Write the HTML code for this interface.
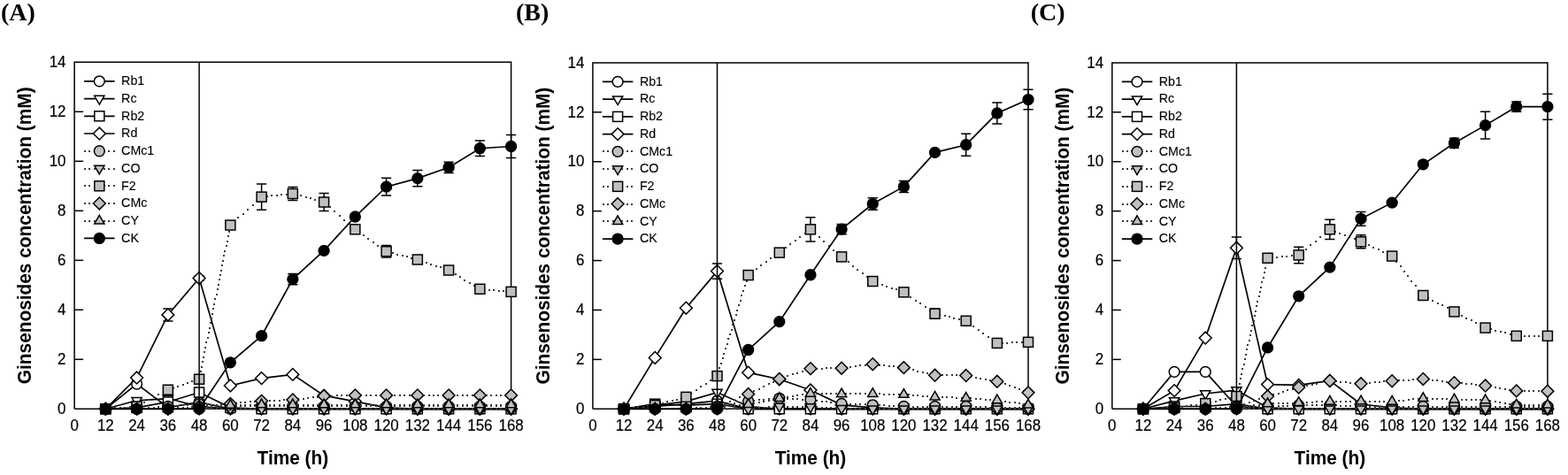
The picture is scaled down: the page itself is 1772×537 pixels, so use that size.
<!DOCTYPE html>
<html><head><meta charset="utf-8"><title>Ginsenosides concentration</title>
<style>
html,body{margin:0;padding:0;background:#fff;}
body{width:1772px;height:537px;overflow:hidden;}
svg{display:block;}
.pl{font-family:"Liberation Serif","Times New Roman",serif;font-weight:bold;font-size:28px;fill:#000;}
.at{font-family:"Liberation Sans",Arial,sans-serif;font-weight:bold;font-size:21.6px;fill:#000;}
.tk{font-family:"Liberation Sans",Arial,sans-serif;font-size:18.2px;fill:#000;stroke:#000;stroke-width:0.2px;}
.lg{font-family:"Liberation Sans",Arial,sans-serif;font-size:15px;fill:#000;stroke:#000;stroke-width:0.12px;}
</style></head>
<body>
<svg width="1772" height="537" viewBox="0 0 1772 537">
<rect width="1772" height="537" fill="#fff"/>
<text x="1" y="22.8" class="pl">(A)</text>
<text class="at" x="0" y="0" text-anchor="middle" transform="translate(35.1 266.3) rotate(-90) scale(0.965 1)">Ginsenosides concentration (mM)</text>
<text class="at" x="0" y="0" text-anchor="middle" transform="translate(330.85 525.1) scale(0.965 1)">Time (h)</text>
<text class="tk" x="0" y="0" text-anchor="end" transform="translate(74.5 468) scale(0.93 1)">0</text>
<text class="tk" x="0" y="0" text-anchor="end" transform="translate(74.5 412) scale(0.93 1)">2</text>
<text class="tk" x="0" y="0" text-anchor="end" transform="translate(74.5 356) scale(0.93 1)">4</text>
<text class="tk" x="0" y="0" text-anchor="end" transform="translate(74.5 300) scale(0.93 1)">6</text>
<text class="tk" x="0" y="0" text-anchor="end" transform="translate(74.5 244) scale(0.93 1)">8</text>
<text class="tk" x="0" y="0" text-anchor="end" transform="translate(74.5 188) scale(0.93 1)">10</text>
<text class="tk" x="0" y="0" text-anchor="end" transform="translate(74.5 132) scale(0.93 1)">12</text>
<text class="tk" x="0" y="0" text-anchor="end" transform="translate(74.5 76) scale(0.93 1)">14</text>
<text class="tk" x="0" y="0" text-anchor="middle" transform="translate(84.1 486.9) scale(0.93 1)">0</text>
<text class="tk" x="0" y="0" text-anchor="middle" transform="translate(119.35 486.9) scale(0.93 1)">12</text>
<text class="tk" x="0" y="0" text-anchor="middle" transform="translate(154.6 486.9) scale(0.93 1)">24</text>
<text class="tk" x="0" y="0" text-anchor="middle" transform="translate(189.85 486.9) scale(0.93 1)">36</text>
<text class="tk" x="0" y="0" text-anchor="middle" transform="translate(225.1 486.9) scale(0.93 1)">48</text>
<text class="tk" x="0" y="0" text-anchor="middle" transform="translate(260.35 486.9) scale(0.93 1)">60</text>
<text class="tk" x="0" y="0" text-anchor="middle" transform="translate(295.6 486.9) scale(0.93 1)">72</text>
<text class="tk" x="0" y="0" text-anchor="middle" transform="translate(330.85 486.9) scale(0.93 1)">84</text>
<text class="tk" x="0" y="0" text-anchor="middle" transform="translate(366.1 486.9) scale(0.93 1)">96</text>
<text class="tk" x="0" y="0" text-anchor="middle" transform="translate(401.35 486.9) scale(0.93 1)">108</text>
<text class="tk" x="0" y="0" text-anchor="middle" transform="translate(436.6 486.9) scale(0.93 1)">120</text>
<text class="tk" x="0" y="0" text-anchor="middle" transform="translate(471.85 486.9) scale(0.93 1)">132</text>
<text class="tk" x="0" y="0" text-anchor="middle" transform="translate(507.1 486.9) scale(0.93 1)">144</text>
<text class="tk" x="0" y="0" text-anchor="middle" transform="translate(542.35 486.9) scale(0.93 1)">156</text>
<text class="tk" x="0" y="0" text-anchor="middle" transform="translate(577.6 486.9) scale(0.93 1)">168</text>
<path d="M577.6 70.3L84.1 70.3L84.1 462.3" fill="none" stroke="#000" stroke-width="1.5" stroke-linejoin="miter"/>
<path d="M84.1 462.3L578.35 462.3" fill="none" stroke="#000" stroke-width="1.5"/>
<path d="M577.6 69.55L577.6 462.3" fill="none" stroke="#000" stroke-width="1.5"/>
<path d="M84.1 406.3L94.1 406.3" stroke="#000" stroke-width="1.5"/>
<path d="M84.1 350.3L94.1 350.3" stroke="#000" stroke-width="1.5"/>
<path d="M84.1 294.3L94.1 294.3" stroke="#000" stroke-width="1.5"/>
<path d="M84.1 238.3L94.1 238.3" stroke="#000" stroke-width="1.5"/>
<path d="M84.1 182.3L94.1 182.3" stroke="#000" stroke-width="1.5"/>
<path d="M84.1 126.3L94.1 126.3" stroke="#000" stroke-width="1.5"/>
<path d="M95.1 91.8L129.6 91.8" fill="none" stroke="#000" stroke-width="1.7"/>
<circle cx="112.3" cy="91.8" r="5.9" fill="white" stroke="#000" stroke-width="1.5"/>
<text class="lg" x="0" y="0" transform="translate(137.1 96.1) scale(0.95 1)">Rb1</text>
<path d="M95.1 111.54L129.6 111.54" fill="none" stroke="#000" stroke-width="1.7"/>
<path d="M112.3 118.006L117.9 108.307L106.7 108.307Z" fill="white" stroke="#000" stroke-width="1.5"/>
<text class="lg" x="0" y="0" transform="translate(137.1 115.84) scale(0.95 1)">Rc</text>
<path d="M95.1 131.28L129.6 131.28" fill="none" stroke="#000" stroke-width="1.7"/>
<rect x="106.8" y="125.78" width="11" height="11" fill="white" stroke="#000" stroke-width="1.5"/>
<text class="lg" x="0" y="0" transform="translate(137.1 135.58) scale(0.95 1)">Rb2</text>
<path d="M95.1 151.02L129.6 151.02" fill="none" stroke="#000" stroke-width="1.7"/>
<path d="M112.3 144.12L119.2 151.02L112.3 157.92L105.4 151.02Z" fill="white" stroke="#000" stroke-width="1.5"/>
<text class="lg" x="0" y="0" transform="translate(137.1 155.32) scale(0.95 1)">Rd</text>
<path d="M95 170h2v2h-2zM100 170h2v2h-2zM106 170h2v2h-2zM111 170h2v2h-2zM117 170h2v2h-2zM122 170h2v2h-2zM128 170h2v2h-2z" fill="#3a3a3a"/>
<circle cx="112.3" cy="170.76" r="5.9" fill="#c0c0c0" stroke="#000" stroke-width="1.5"/>
<text class="lg" x="0" y="0" transform="translate(137.1 175.06) scale(0.95 1)">CMc1</text>
<path d="M95 190h2v2h-2zM100 190h2v2h-2zM106 190h2v2h-2zM111 190h2v2h-2zM117 190h2v2h-2zM122 190h2v2h-2zM128 190h2v2h-2z" fill="#3a3a3a"/>
<path d="M112.3 196.966L117.9 187.267L106.7 187.267Z" fill="#c0c0c0" stroke="#000" stroke-width="1.5"/>
<text class="lg" x="0" y="0" transform="translate(137.1 194.8) scale(0.95 1)">CO</text>
<path d="M95 209h2v2h-2zM100 209h2v2h-2zM106 209h2v2h-2zM111 209h2v2h-2zM117 209h2v2h-2zM122 209h2v2h-2zM128 209h2v2h-2z" fill="#3a3a3a"/>
<rect x="106.8" y="204.74" width="11" height="11" fill="#c0c0c0" stroke="#000" stroke-width="1.5"/>
<text class="lg" x="0" y="0" transform="translate(137.1 214.54) scale(0.95 1)">F2</text>
<path d="M95 229h2v2h-2zM100 229h2v2h-2zM106 229h2v2h-2zM111 229h2v2h-2zM117 229h2v2h-2zM122 229h2v2h-2zM128 229h2v2h-2z" fill="#3a3a3a"/>
<path d="M112.3 223.08L119.2 229.98L112.3 236.88L105.4 229.98Z" fill="#c0c0c0" stroke="#000" stroke-width="1.5"/>
<text class="lg" x="0" y="0" transform="translate(137.1 234.28) scale(0.95 1)">CMc</text>
<path d="M95 249h2v2h-2zM100 249h2v2h-2zM106 249h2v2h-2zM111 249h2v2h-2zM117 249h2v2h-2zM122 249h2v2h-2zM128 249h2v2h-2z" fill="#3a3a3a"/>
<path d="M112.3 243.254L117.9 252.953L106.7 252.953Z" fill="#c0c0c0" stroke="#000" stroke-width="1.5"/>
<text class="lg" x="0" y="0" transform="translate(137.1 254.02) scale(0.95 1)">CY</text>
<path d="M95.1 269.46L129.6 269.46" fill="none" stroke="#000" stroke-width="1.7"/>
<circle cx="112.3" cy="269.46" r="5.9" fill="black" stroke="#000" stroke-width="1.5"/>
<text class="lg" x="0" y="0" transform="translate(137.1 273.76) scale(0.95 1)">CK</text>
<polyline points="119.35,462.3 154.6,434.02 189.85,460.62 225.1,454.74 260.35,462.3 295.6,462.3 330.85,462.3 366.1,462.3 401.35,462.3 436.6,462.3 471.85,462.3 507.1,462.3 542.35,462.3 577.6,462.3" fill="none" stroke="#000" stroke-width="1.7"/>
<circle cx="119.35" cy="462.3" r="5.9" fill="white" stroke="#000" stroke-width="1.5"/>
<circle cx="154.6" cy="434.02" r="5.9" fill="white" stroke="#000" stroke-width="1.5"/>
<circle cx="189.85" cy="460.62" r="5.9" fill="white" stroke="#000" stroke-width="1.5"/>
<circle cx="225.1" cy="454.74" r="5.9" fill="white" stroke="#000" stroke-width="1.5"/>
<circle cx="260.35" cy="462.3" r="5.9" fill="white" stroke="#000" stroke-width="1.5"/>
<circle cx="295.6" cy="462.3" r="5.9" fill="white" stroke="#000" stroke-width="1.5"/>
<circle cx="330.85" cy="462.3" r="5.9" fill="white" stroke="#000" stroke-width="1.5"/>
<circle cx="366.1" cy="462.3" r="5.9" fill="white" stroke="#000" stroke-width="1.5"/>
<circle cx="401.35" cy="462.3" r="5.9" fill="white" stroke="#000" stroke-width="1.5"/>
<circle cx="436.6" cy="462.3" r="5.9" fill="white" stroke="#000" stroke-width="1.5"/>
<circle cx="471.85" cy="462.3" r="5.9" fill="white" stroke="#000" stroke-width="1.5"/>
<circle cx="507.1" cy="462.3" r="5.9" fill="white" stroke="#000" stroke-width="1.5"/>
<circle cx="542.35" cy="462.3" r="5.9" fill="white" stroke="#000" stroke-width="1.5"/>
<circle cx="577.6" cy="462.3" r="5.9" fill="white" stroke="#000" stroke-width="1.5"/>
<polyline points="119.35,462.3 154.6,452.78 189.85,450.54 225.1,459.5 260.35,462.3 295.6,462.3 330.85,462.3 366.1,462.3 401.35,462.3 436.6,462.3 471.85,462.3 507.1,462.3 542.35,462.3 577.6,462.3" fill="none" stroke="#000" stroke-width="1.7"/>
<path d="M119.35 468.766L124.95 459.067L113.75 459.067Z" fill="white" stroke="#000" stroke-width="1.5"/>
<path d="M154.6 459.246L160.2 449.547L149 449.547Z" fill="white" stroke="#000" stroke-width="1.5"/>
<path d="M189.85 457.006L195.45 447.307L184.25 447.307Z" fill="white" stroke="#000" stroke-width="1.5"/>
<path d="M225.1 465.966L230.7 456.267L219.5 456.267Z" fill="white" stroke="#000" stroke-width="1.5"/>
<path d="M260.35 468.766L265.95 459.067L254.75 459.067Z" fill="white" stroke="#000" stroke-width="1.5"/>
<path d="M295.6 468.766L301.2 459.067L290 459.067Z" fill="white" stroke="#000" stroke-width="1.5"/>
<path d="M330.85 468.766L336.45 459.067L325.25 459.067Z" fill="white" stroke="#000" stroke-width="1.5"/>
<path d="M366.1 468.766L371.7 459.067L360.5 459.067Z" fill="white" stroke="#000" stroke-width="1.5"/>
<path d="M401.35 468.766L406.95 459.067L395.75 459.067Z" fill="white" stroke="#000" stroke-width="1.5"/>
<path d="M436.6 468.766L442.2 459.067L431 459.067Z" fill="white" stroke="#000" stroke-width="1.5"/>
<path d="M471.85 468.766L477.45 459.067L466.25 459.067Z" fill="white" stroke="#000" stroke-width="1.5"/>
<path d="M507.1 468.766L512.7 459.067L501.5 459.067Z" fill="white" stroke="#000" stroke-width="1.5"/>
<path d="M542.35 468.766L547.95 459.067L536.75 459.067Z" fill="white" stroke="#000" stroke-width="1.5"/>
<path d="M577.6 468.766L583.2 459.067L572 459.067Z" fill="white" stroke="#000" stroke-width="1.5"/>
<polyline points="119.35,462.3 154.6,460.9 189.85,454.46 225.1,443.54 260.35,460.9 295.6,462.3 330.85,462.3 366.1,462.3 401.35,462.3 436.6,462.3 471.85,462.3 507.1,462.3 542.35,462.3 577.6,462.3" fill="none" stroke="#000" stroke-width="1.7"/>
<rect x="113.85" y="456.8" width="11" height="11" fill="white" stroke="#000" stroke-width="1.5"/>
<rect x="149.1" y="455.4" width="11" height="11" fill="white" stroke="#000" stroke-width="1.5"/>
<rect x="184.35" y="448.96" width="11" height="11" fill="white" stroke="#000" stroke-width="1.5"/>
<rect x="219.6" y="438.04" width="11" height="11" fill="white" stroke="#000" stroke-width="1.5"/>
<rect x="254.85" y="455.4" width="11" height="11" fill="white" stroke="#000" stroke-width="1.5"/>
<rect x="290.1" y="456.8" width="11" height="11" fill="white" stroke="#000" stroke-width="1.5"/>
<rect x="325.35" y="456.8" width="11" height="11" fill="white" stroke="#000" stroke-width="1.5"/>
<rect x="360.6" y="456.8" width="11" height="11" fill="white" stroke="#000" stroke-width="1.5"/>
<rect x="395.85" y="456.8" width="11" height="11" fill="white" stroke="#000" stroke-width="1.5"/>
<rect x="431.1" y="456.8" width="11" height="11" fill="white" stroke="#000" stroke-width="1.5"/>
<rect x="466.35" y="456.8" width="11" height="11" fill="white" stroke="#000" stroke-width="1.5"/>
<rect x="501.6" y="456.8" width="11" height="11" fill="white" stroke="#000" stroke-width="1.5"/>
<rect x="536.85" y="456.8" width="11" height="11" fill="white" stroke="#000" stroke-width="1.5"/>
<rect x="572.1" y="456.8" width="11" height="11" fill="white" stroke="#000" stroke-width="1.5"/>
<polyline points="119.35,462.3 154.6,427.02 189.85,355.9 225.1,314.46 260.35,435.98 295.6,427.58 330.85,423.38 366.1,447.18 401.35,453.9 436.6,460.9 471.85,462.3 507.1,462.3 542.35,462.3 577.6,462.3" fill="none" stroke="#000" stroke-width="1.7"/>
<path d="M189.85 348.9L189.85 362.9M184.25 348.9L195.45 348.9M184.25 362.9L195.45 362.9" stroke="#000" stroke-width="1.5" fill="none"/>
<path d="M225.1 311.66L225.1 317.26M219.5 311.66L230.7 311.66M219.5 317.26L230.7 317.26" stroke="#000" stroke-width="1.5" fill="none"/>
<path d="M119.35 455.4L126.25 462.3L119.35 469.2L112.45 462.3Z" fill="white" stroke="#000" stroke-width="1.5"/>
<path d="M154.6 420.12L161.5 427.02L154.6 433.92L147.7 427.02Z" fill="white" stroke="#000" stroke-width="1.5"/>
<path d="M189.85 349L196.75 355.9L189.85 362.8L182.95 355.9Z" fill="white" stroke="#000" stroke-width="1.5"/>
<path d="M225.1 307.56L232 314.46L225.1 321.36L218.2 314.46Z" fill="white" stroke="#000" stroke-width="1.5"/>
<path d="M260.35 429.08L267.25 435.98L260.35 442.88L253.45 435.98Z" fill="white" stroke="#000" stroke-width="1.5"/>
<path d="M295.6 420.68L302.5 427.58L295.6 434.48L288.7 427.58Z" fill="white" stroke="#000" stroke-width="1.5"/>
<path d="M330.85 416.48L337.75 423.38L330.85 430.28L323.95 423.38Z" fill="white" stroke="#000" stroke-width="1.5"/>
<path d="M366.1 440.28L373 447.18L366.1 454.08L359.2 447.18Z" fill="white" stroke="#000" stroke-width="1.5"/>
<path d="M401.35 447L408.25 453.9L401.35 460.8L394.45 453.9Z" fill="white" stroke="#000" stroke-width="1.5"/>
<path d="M436.6 454L443.5 460.9L436.6 467.8L429.7 460.9Z" fill="white" stroke="#000" stroke-width="1.5"/>
<path d="M471.85 455.4L478.75 462.3L471.85 469.2L464.95 462.3Z" fill="white" stroke="#000" stroke-width="1.5"/>
<path d="M507.1 455.4L514 462.3L507.1 469.2L500.2 462.3Z" fill="white" stroke="#000" stroke-width="1.5"/>
<path d="M542.35 455.4L549.25 462.3L542.35 469.2L535.45 462.3Z" fill="white" stroke="#000" stroke-width="1.5"/>
<path d="M577.6 455.4L584.5 462.3L577.6 469.2L570.7 462.3Z" fill="white" stroke="#000" stroke-width="1.5"/>
<path d="M118 461h2v2h-2zM124 461h2v2h-2zM129 461h2v2h-2zM135 461h2v2h-2zM140 461h2v2h-2zM146 461h2v2h-2zM151 461h2v2h-2zM156 461h2v2h-2zM162 461h2v2h-2zM167 460h2v2h-2zM173 460h2v2h-2zM178 459h2v2h-2zM184 459h2v2h-2zM189 458h2v2h-2zM195 458h2v2h-2zM200 458h2v2h-2zM206 457h2v2h-2zM211 457h2v2h-2zM216 456h2v2h-2zM222 456h2v2h-2zM227 456h2v2h-2zM233 456h2v2h-2zM238 457h2v2h-2zM244 457h2v2h-2zM249 458h2v2h-2zM255 458h2v2h-2zM260 458h2v2h-2zM266 458h2v2h-2zM271 458h2v2h-2zM276 458h2v2h-2zM282 458h2v2h-2zM287 458h2v2h-2zM293 458h2v2h-2zM298 458h2v2h-2zM304 458h2v2h-2zM309 458h2v2h-2zM315 458h2v2h-2zM320 458h2v2h-2zM325 458h2v2h-2zM331 458h2v2h-2zM336 458h2v2h-2zM342 458h2v2h-2zM347 458h2v2h-2zM353 458h2v2h-2zM358 458h2v2h-2zM364 458h2v2h-2zM369 458h2v2h-2zM374 458h2v2h-2zM380 458h2v2h-2zM385 458h2v2h-2zM391 458h2v2h-2zM396 458h2v2h-2zM402 458h2v2h-2zM407 458h2v2h-2zM413 458h2v2h-2zM418 458h2v2h-2zM424 458h2v2h-2zM429 458h2v2h-2zM434 458h2v2h-2zM440 458h2v2h-2zM445 458h2v2h-2zM451 458h2v2h-2zM456 458h2v2h-2zM462 458h2v2h-2zM467 458h2v2h-2zM473 458h2v2h-2zM478 458h2v2h-2zM484 458h2v2h-2zM489 458h2v2h-2zM494 458h2v2h-2zM500 458h2v2h-2zM505 458h2v2h-2zM511 458h2v2h-2zM516 458h2v2h-2zM522 458h2v2h-2zM527 458h2v2h-2zM533 458h2v2h-2zM538 458h2v2h-2zM543 458h2v2h-2zM549 458h2v2h-2zM554 458h2v2h-2zM560 458h2v2h-2zM565 458h2v2h-2zM571 458h2v2h-2zM576 458h2v2h-2z" fill="#3a3a3a"/>
<circle cx="119.35" cy="462.3" r="5.9" fill="#c0c0c0" stroke="#000" stroke-width="1.5"/>
<circle cx="154.6" cy="462.3" r="5.9" fill="#c0c0c0" stroke="#000" stroke-width="1.5"/>
<circle cx="189.85" cy="459.5" r="5.9" fill="#c0c0c0" stroke="#000" stroke-width="1.5"/>
<circle cx="225.1" cy="456.7" r="5.9" fill="#c0c0c0" stroke="#000" stroke-width="1.5"/>
<circle cx="260.35" cy="459.5" r="5.9" fill="#c0c0c0" stroke="#000" stroke-width="1.5"/>
<circle cx="295.6" cy="459.5" r="5.9" fill="#c0c0c0" stroke="#000" stroke-width="1.5"/>
<circle cx="330.85" cy="459.5" r="5.9" fill="#c0c0c0" stroke="#000" stroke-width="1.5"/>
<circle cx="366.1" cy="459.5" r="5.9" fill="#c0c0c0" stroke="#000" stroke-width="1.5"/>
<circle cx="401.35" cy="459.5" r="5.9" fill="#c0c0c0" stroke="#000" stroke-width="1.5"/>
<circle cx="436.6" cy="459.5" r="5.9" fill="#c0c0c0" stroke="#000" stroke-width="1.5"/>
<circle cx="471.85" cy="459.5" r="5.9" fill="#c0c0c0" stroke="#000" stroke-width="1.5"/>
<circle cx="507.1" cy="459.5" r="5.9" fill="#c0c0c0" stroke="#000" stroke-width="1.5"/>
<circle cx="542.35" cy="459.5" r="5.9" fill="#c0c0c0" stroke="#000" stroke-width="1.5"/>
<circle cx="577.6" cy="459.5" r="5.9" fill="#c0c0c0" stroke="#000" stroke-width="1.5"/>
<path d="M118 461h2v2h-2zM124 461h2v2h-2zM129 461h2v2h-2zM135 461h2v2h-2zM140 461h2v2h-2zM146 461h2v2h-2zM151 461h2v2h-2zM156 461h2v2h-2zM162 461h2v2h-2zM167 461h2v2h-2zM173 461h2v2h-2zM178 461h2v2h-2zM184 461h2v2h-2zM189 461h2v2h-2zM195 461h2v2h-2zM200 461h2v2h-2zM206 461h2v2h-2zM211 461h2v2h-2zM216 461h2v2h-2zM222 461h2v2h-2zM227 461h2v2h-2zM233 461h2v2h-2zM238 461h2v2h-2zM244 461h2v2h-2zM249 461h2v2h-2zM255 461h2v2h-2zM260 461h2v2h-2zM266 461h2v2h-2zM271 461h2v2h-2zM276 461h2v2h-2zM282 461h2v2h-2zM287 461h2v2h-2zM293 461h2v2h-2zM298 461h2v2h-2zM304 461h2v2h-2zM309 461h2v2h-2zM315 461h2v2h-2zM320 461h2v2h-2zM325 461h2v2h-2zM331 461h2v2h-2zM336 461h2v2h-2zM342 461h2v2h-2zM347 461h2v2h-2zM353 461h2v2h-2zM358 461h2v2h-2zM364 461h2v2h-2zM369 461h2v2h-2zM374 461h2v2h-2zM380 461h2v2h-2zM385 461h2v2h-2zM391 461h2v2h-2zM396 461h2v2h-2zM402 461h2v2h-2zM407 461h2v2h-2zM413 461h2v2h-2zM418 461h2v2h-2zM424 461h2v2h-2zM429 461h2v2h-2zM434 461h2v2h-2zM440 461h2v2h-2zM445 461h2v2h-2zM451 461h2v2h-2zM456 461h2v2h-2zM462 461h2v2h-2zM467 461h2v2h-2zM473 461h2v2h-2zM478 461h2v2h-2zM484 461h2v2h-2zM489 461h2v2h-2zM494 461h2v2h-2zM500 461h2v2h-2zM505 461h2v2h-2zM511 461h2v2h-2zM516 461h2v2h-2zM522 461h2v2h-2zM527 461h2v2h-2zM533 461h2v2h-2zM538 461h2v2h-2zM543 461h2v2h-2zM549 461h2v2h-2zM554 461h2v2h-2zM560 461h2v2h-2zM565 461h2v2h-2zM571 461h2v2h-2zM576 461h2v2h-2z" fill="#3a3a3a"/>
<path d="M119.35 468.766L124.95 459.067L113.75 459.067Z" fill="#c0c0c0" stroke="#000" stroke-width="1.5"/>
<path d="M154.6 468.766L160.2 459.067L149 459.067Z" fill="#c0c0c0" stroke="#000" stroke-width="1.5"/>
<path d="M189.85 468.766L195.45 459.067L184.25 459.067Z" fill="#c0c0c0" stroke="#000" stroke-width="1.5"/>
<path d="M225.1 468.766L230.7 459.067L219.5 459.067Z" fill="#c0c0c0" stroke="#000" stroke-width="1.5"/>
<path d="M260.35 468.766L265.95 459.067L254.75 459.067Z" fill="#c0c0c0" stroke="#000" stroke-width="1.5"/>
<path d="M295.6 468.766L301.2 459.067L290 459.067Z" fill="#c0c0c0" stroke="#000" stroke-width="1.5"/>
<path d="M330.85 468.766L336.45 459.067L325.25 459.067Z" fill="#c0c0c0" stroke="#000" stroke-width="1.5"/>
<path d="M366.1 468.766L371.7 459.067L360.5 459.067Z" fill="#c0c0c0" stroke="#000" stroke-width="1.5"/>
<path d="M401.35 468.766L406.95 459.067L395.75 459.067Z" fill="#c0c0c0" stroke="#000" stroke-width="1.5"/>
<path d="M436.6 468.766L442.2 459.067L431 459.067Z" fill="#c0c0c0" stroke="#000" stroke-width="1.5"/>
<path d="M471.85 468.766L477.45 459.067L466.25 459.067Z" fill="#c0c0c0" stroke="#000" stroke-width="1.5"/>
<path d="M507.1 468.766L512.7 459.067L501.5 459.067Z" fill="#c0c0c0" stroke="#000" stroke-width="1.5"/>
<path d="M542.35 468.766L547.95 459.067L536.75 459.067Z" fill="#c0c0c0" stroke="#000" stroke-width="1.5"/>
<path d="M577.6 468.766L583.2 459.067L572 459.067Z" fill="#c0c0c0" stroke="#000" stroke-width="1.5"/>
<path d="M118 461h2v2h-2zM124 461h2v2h-2zM129 460h2v2h-2zM135 460h2v2h-2zM140 460h2v2h-2zM146 459h2v2h-2zM151 459h2v2h-2zM156 457h2v2h-2zM162 454h2v2h-2zM167 451h2v2h-2zM173 448h2v2h-2zM178 445h2v2h-2zM184 442h2v2h-2zM189 440h2v2h-2zM195 438h2v2h-2zM200 436h2v2h-2zM206 434h2v2h-2zM211 432h2v2h-2zM216 430h2v2h-2zM222 428h2v2h-2zM225 424h2v2h-2zM226 419h2v2h-2zM227 414h2v2h-2zM228 408h2v2h-2zM229 403h2v2h-2zM230 397h2v2h-2zM231 392h2v2h-2zM232 386h2v2h-2zM234 381h2v2h-2zM235 375h2v2h-2zM236 370h2v2h-2zM237 364h2v2h-2zM238 359h2v2h-2zM239 354h2v2h-2zM240 348h2v2h-2zM241 343h2v2h-2zM242 337h2v2h-2zM244 332h2v2h-2zM245 326h2v2h-2zM246 321h2v2h-2zM247 315h2v2h-2zM248 310h2v2h-2zM249 305h2v2h-2zM250 299h2v2h-2zM251 294h2v2h-2zM252 288h2v2h-2zM253 283h2v2h-2zM255 277h2v2h-2zM256 272h2v2h-2zM257 266h2v2h-2zM258 261h2v2h-2zM259 256h2v2h-2zM263 250h2v2h-2zM268 245h2v2h-2zM274 241h2v2h-2zM279 236h2v2h-2zM285 231h2v2h-2zM290 226h2v2h-2zM296 222h2v2h-2zM301 221h2v2h-2zM306 220h2v2h-2zM312 220h2v2h-2zM317 219h2v2h-2zM323 219h2v2h-2zM328 218h2v2h-2zM334 219h2v2h-2zM339 220h2v2h-2zM345 222h2v2h-2zM350 223h2v2h-2zM355 225h2v2h-2zM361 226h2v2h-2zM366 229h2v2h-2zM372 233h2v2h-2zM377 238h2v2h-2zM383 243h2v2h-2zM388 248h2v2h-2zM394 252h2v2h-2zM399 257h2v2h-2zM405 261h2v2h-2zM410 265h2v2h-2zM415 269h2v2h-2zM421 273h2v2h-2zM426 277h2v2h-2zM432 281h2v2h-2zM437 284h2v2h-2zM443 285h2v2h-2zM448 287h2v2h-2zM454 288h2v2h-2zM459 289h2v2h-2zM464 291h2v2h-2zM470 292h2v2h-2zM475 294h2v2h-2zM481 296h2v2h-2zM486 298h2v2h-2zM492 300h2v2h-2zM497 301h2v2h-2zM503 303h2v2h-2zM508 306h2v2h-2zM514 309h2v2h-2zM519 312h2v2h-2zM524 316h2v2h-2zM530 319h2v2h-2zM535 322h2v2h-2zM541 325h2v2h-2zM546 326h2v2h-2zM552 327h2v2h-2zM557 327h2v2h-2zM563 328h2v2h-2zM568 328h2v2h-2zM573 329h2v2h-2z" fill="#3a3a3a"/>
<path d="M295.6 207.92L295.6 237.32M290 207.92L301.2 207.92M290 237.32L301.2 237.32" stroke="#000" stroke-width="1.5" fill="none"/>
<path d="M330.85 211.42L330.85 226.54M325.25 211.42L336.45 211.42M325.25 226.54L336.45 226.54" stroke="#000" stroke-width="1.5" fill="none"/>
<path d="M366.1 218.56L366.1 238.44M360.5 218.56L371.7 218.56M360.5 238.44L371.7 238.44" stroke="#000" stroke-width="1.5" fill="none"/>
<path d="M436.6 277.5L436.6 290.94M431 277.5L442.2 277.5M431 290.94L442.2 290.94" stroke="#000" stroke-width="1.5" fill="none"/>
<path d="M507.1 301.3L507.1 309.7M501.5 301.3L512.7 301.3M501.5 309.7L512.7 309.7" stroke="#000" stroke-width="1.5" fill="none"/>
<rect x="113.85" y="456.8" width="11" height="11" fill="#c0c0c0" stroke="#000" stroke-width="1.5"/>
<rect x="149.1" y="454" width="11" height="11" fill="#c0c0c0" stroke="#000" stroke-width="1.5"/>
<rect x="184.35" y="435.24" width="11" height="11" fill="#c0c0c0" stroke="#000" stroke-width="1.5"/>
<rect x="219.6" y="423.2" width="11" height="11" fill="#c0c0c0" stroke="#000" stroke-width="1.5"/>
<rect x="254.85" y="249.04" width="11" height="11" fill="#c0c0c0" stroke="#000" stroke-width="1.5"/>
<rect x="290.1" y="217.12" width="11" height="11" fill="#c0c0c0" stroke="#000" stroke-width="1.5"/>
<rect x="325.35" y="213.48" width="11" height="11" fill="#c0c0c0" stroke="#000" stroke-width="1.5"/>
<rect x="360.6" y="223" width="11" height="11" fill="#c0c0c0" stroke="#000" stroke-width="1.5"/>
<rect x="395.85" y="253.8" width="11" height="11" fill="#c0c0c0" stroke="#000" stroke-width="1.5"/>
<rect x="431.1" y="278.72" width="11" height="11" fill="#c0c0c0" stroke="#000" stroke-width="1.5"/>
<rect x="466.35" y="287.96" width="11" height="11" fill="#c0c0c0" stroke="#000" stroke-width="1.5"/>
<rect x="501.6" y="300" width="11" height="11" fill="#c0c0c0" stroke="#000" stroke-width="1.5"/>
<rect x="536.85" y="321.28" width="11" height="11" fill="#c0c0c0" stroke="#000" stroke-width="1.5"/>
<rect x="572.1" y="324.36" width="11" height="11" fill="#c0c0c0" stroke="#000" stroke-width="1.5"/>
<path d="M118 461h2v2h-2zM124 461h2v2h-2zM129 461h2v2h-2zM135 461h2v2h-2zM140 461h2v2h-2zM146 461h2v2h-2zM151 461h2v2h-2zM156 461h2v2h-2zM162 461h2v2h-2zM167 461h2v2h-2zM173 461h2v2h-2zM178 461h2v2h-2zM184 461h2v2h-2zM189 461h2v2h-2zM195 461h2v2h-2zM200 460h2v2h-2zM206 460h2v2h-2zM211 460h2v2h-2zM216 459h2v2h-2zM222 459h2v2h-2zM227 458h2v2h-2zM233 458h2v2h-2zM238 457h2v2h-2zM244 457h2v2h-2zM249 456h2v2h-2zM255 456h2v2h-2zM260 455h2v2h-2zM266 455h2v2h-2zM271 454h2v2h-2zM276 454h2v2h-2zM282 453h2v2h-2zM287 453h2v2h-2zM293 453h2v2h-2zM298 452h2v2h-2zM304 452h2v2h-2zM309 452h2v2h-2zM315 452h2v2h-2zM320 451h2v2h-2zM325 451h2v2h-2zM331 451h2v2h-2zM336 450h2v2h-2zM342 450h2v2h-2zM347 449h2v2h-2zM353 448h2v2h-2zM358 448h2v2h-2zM364 447h2v2h-2zM369 447h2v2h-2zM374 447h2v2h-2zM380 446h2v2h-2zM385 446h2v2h-2zM391 446h2v2h-2zM396 446h2v2h-2zM402 446h2v2h-2zM407 446h2v2h-2zM413 446h2v2h-2zM418 446h2v2h-2zM424 446h2v2h-2zM429 446h2v2h-2zM434 446h2v2h-2zM440 446h2v2h-2zM445 446h2v2h-2zM451 446h2v2h-2zM456 446h2v2h-2zM462 446h2v2h-2zM467 446h2v2h-2zM473 446h2v2h-2zM478 446h2v2h-2zM484 446h2v2h-2zM489 446h2v2h-2zM494 446h2v2h-2zM500 446h2v2h-2zM505 446h2v2h-2zM511 446h2v2h-2zM516 446h2v2h-2zM522 446h2v2h-2zM527 446h2v2h-2zM533 446h2v2h-2zM538 446h2v2h-2zM543 446h2v2h-2zM549 446h2v2h-2zM554 446h2v2h-2zM560 446h2v2h-2zM565 446h2v2h-2zM571 446h2v2h-2zM576 446h2v2h-2z" fill="#3a3a3a"/>
<path d="M119.35 455.4L126.25 462.3L119.35 469.2L112.45 462.3Z" fill="#c0c0c0" stroke="#000" stroke-width="1.5"/>
<path d="M154.6 455.4L161.5 462.3L154.6 469.2L147.7 462.3Z" fill="#c0c0c0" stroke="#000" stroke-width="1.5"/>
<path d="M189.85 455.4L196.75 462.3L189.85 469.2L182.95 462.3Z" fill="#c0c0c0" stroke="#000" stroke-width="1.5"/>
<path d="M225.1 452.6L232 459.5L225.1 466.4L218.2 459.5Z" fill="#c0c0c0" stroke="#000" stroke-width="1.5"/>
<path d="M260.35 449.52L267.25 456.42L260.35 463.32L253.45 456.42Z" fill="#c0c0c0" stroke="#000" stroke-width="1.5"/>
<path d="M295.6 446.44L302.5 453.34L295.6 460.24L288.7 453.34Z" fill="#c0c0c0" stroke="#000" stroke-width="1.5"/>
<path d="M330.85 445.04L337.75 451.94L330.85 458.84L323.95 451.94Z" fill="#c0c0c0" stroke="#000" stroke-width="1.5"/>
<path d="M366.1 440.84L373 447.74L366.1 454.64L359.2 447.74Z" fill="#c0c0c0" stroke="#000" stroke-width="1.5"/>
<path d="M401.35 440L408.25 446.9L401.35 453.8L394.45 446.9Z" fill="#c0c0c0" stroke="#000" stroke-width="1.5"/>
<path d="M436.6 440L443.5 446.9L436.6 453.8L429.7 446.9Z" fill="#c0c0c0" stroke="#000" stroke-width="1.5"/>
<path d="M471.85 440L478.75 446.9L471.85 453.8L464.95 446.9Z" fill="#c0c0c0" stroke="#000" stroke-width="1.5"/>
<path d="M507.1 440L514 446.9L507.1 453.8L500.2 446.9Z" fill="#c0c0c0" stroke="#000" stroke-width="1.5"/>
<path d="M542.35 440L549.25 446.9L542.35 453.8L535.45 446.9Z" fill="#c0c0c0" stroke="#000" stroke-width="1.5"/>
<path d="M577.6 440L584.5 446.9L577.6 453.8L570.7 446.9Z" fill="#c0c0c0" stroke="#000" stroke-width="1.5"/>
<path d="M118 461h2v2h-2zM124 461h2v2h-2zM129 461h2v2h-2zM135 461h2v2h-2zM140 461h2v2h-2zM146 461h2v2h-2zM151 461h2v2h-2zM156 461h2v2h-2zM162 461h2v2h-2zM167 461h2v2h-2zM173 461h2v2h-2zM178 461h2v2h-2zM184 461h2v2h-2zM189 461h2v2h-2zM195 461h2v2h-2zM200 461h2v2h-2zM206 461h2v2h-2zM211 460h2v2h-2zM216 460h2v2h-2zM222 460h2v2h-2zM227 460h2v2h-2zM233 459h2v2h-2zM238 459h2v2h-2zM244 458h2v2h-2zM249 458h2v2h-2zM255 457h2v2h-2zM260 457h2v2h-2zM266 457h2v2h-2zM271 457h2v2h-2zM276 457h2v2h-2zM282 457h2v2h-2zM287 457h2v2h-2zM293 457h2v2h-2zM298 457h2v2h-2zM304 457h2v2h-2zM309 457h2v2h-2zM315 457h2v2h-2zM320 457h2v2h-2zM325 457h2v2h-2zM331 457h2v2h-2zM336 457h2v2h-2zM342 457h2v2h-2zM347 457h2v2h-2zM353 457h2v2h-2zM358 457h2v2h-2zM364 457h2v2h-2zM369 457h2v2h-2zM374 457h2v2h-2zM380 457h2v2h-2zM385 457h2v2h-2zM391 457h2v2h-2zM396 457h2v2h-2zM402 457h2v2h-2zM407 457h2v2h-2zM413 457h2v2h-2zM418 457h2v2h-2zM424 457h2v2h-2zM429 457h2v2h-2zM434 457h2v2h-2zM440 457h2v2h-2zM445 457h2v2h-2zM451 457h2v2h-2zM456 457h2v2h-2zM462 457h2v2h-2zM467 457h2v2h-2zM473 457h2v2h-2zM478 457h2v2h-2zM484 457h2v2h-2zM489 457h2v2h-2zM494 457h2v2h-2zM500 457h2v2h-2zM505 457h2v2h-2zM511 457h2v2h-2zM516 457h2v2h-2zM522 457h2v2h-2zM527 457h2v2h-2zM533 457h2v2h-2zM538 457h2v2h-2zM543 457h2v2h-2zM549 457h2v2h-2zM554 457h2v2h-2zM560 457h2v2h-2zM565 457h2v2h-2zM571 457h2v2h-2zM576 457h2v2h-2z" fill="#3a3a3a"/>
<path d="M119.35 455.834L124.95 465.533L113.75 465.533Z" fill="#c0c0c0" stroke="#000" stroke-width="1.5"/>
<path d="M154.6 455.834L160.2 465.533L149 465.533Z" fill="#c0c0c0" stroke="#000" stroke-width="1.5"/>
<path d="M189.85 455.834L195.45 465.533L184.25 465.533Z" fill="#c0c0c0" stroke="#000" stroke-width="1.5"/>
<path d="M225.1 454.434L230.7 464.133L219.5 464.133Z" fill="#c0c0c0" stroke="#000" stroke-width="1.5"/>
<path d="M260.35 451.634L265.95 461.333L254.75 461.333Z" fill="#c0c0c0" stroke="#000" stroke-width="1.5"/>
<path d="M295.6 451.074L301.2 460.773L290 460.773Z" fill="#c0c0c0" stroke="#000" stroke-width="1.5"/>
<path d="M330.85 451.074L336.45 460.773L325.25 460.773Z" fill="#c0c0c0" stroke="#000" stroke-width="1.5"/>
<path d="M366.1 451.074L371.7 460.773L360.5 460.773Z" fill="#c0c0c0" stroke="#000" stroke-width="1.5"/>
<path d="M401.35 451.074L406.95 460.773L395.75 460.773Z" fill="#c0c0c0" stroke="#000" stroke-width="1.5"/>
<path d="M436.6 451.074L442.2 460.773L431 460.773Z" fill="#c0c0c0" stroke="#000" stroke-width="1.5"/>
<path d="M471.85 451.074L477.45 460.773L466.25 460.773Z" fill="#c0c0c0" stroke="#000" stroke-width="1.5"/>
<path d="M507.1 451.074L512.7 460.773L501.5 460.773Z" fill="#c0c0c0" stroke="#000" stroke-width="1.5"/>
<path d="M542.35 451.074L547.95 460.773L536.75 460.773Z" fill="#c0c0c0" stroke="#000" stroke-width="1.5"/>
<path d="M577.6 451.074L583.2 460.773L572 460.773Z" fill="#c0c0c0" stroke="#000" stroke-width="1.5"/>
<polyline points="119.35,462.3 154.6,462.3 189.85,462.3 225.1,462.3 260.35,409.8 295.6,379.7 330.85,315.58 366.1,283.38 401.35,245.02 436.6,211.14 471.85,201.62 507.1,189.3 542.35,167.74 577.6,165.5" fill="none" stroke="#000" stroke-width="1.7"/>
<path d="M330.85 309.42L330.85 321.74M325.25 309.42L336.45 309.42M325.25 321.74L336.45 321.74" stroke="#000" stroke-width="1.5" fill="none"/>
<path d="M436.6 201.2L436.6 221.08M431 201.2L442.2 201.2M431 221.08L442.2 221.08" stroke="#000" stroke-width="1.5" fill="none"/>
<path d="M471.85 192.38L471.85 210.86M466.25 192.38L477.45 192.38M466.25 210.86L477.45 210.86" stroke="#000" stroke-width="1.5" fill="none"/>
<path d="M507.1 183.14L507.1 195.46M501.5 183.14L512.7 183.14M501.5 195.46L512.7 195.46" stroke="#000" stroke-width="1.5" fill="none"/>
<path d="M542.35 159.06L542.35 176.42M536.75 159.06L547.95 159.06M536.75 176.42L547.95 176.42" stroke="#000" stroke-width="1.5" fill="none"/>
<path d="M577.6 152.62L577.6 178.38M572 152.62L583.2 152.62M572 178.38L583.2 178.38" stroke="#000" stroke-width="1.5" fill="none"/>
<circle cx="119.35" cy="462.3" r="5.9" fill="black" stroke="#000" stroke-width="1.5"/>
<circle cx="154.6" cy="462.3" r="5.9" fill="black" stroke="#000" stroke-width="1.5"/>
<circle cx="189.85" cy="462.3" r="5.9" fill="black" stroke="#000" stroke-width="1.5"/>
<circle cx="225.1" cy="462.3" r="5.9" fill="black" stroke="#000" stroke-width="1.5"/>
<circle cx="260.35" cy="409.8" r="5.9" fill="black" stroke="#000" stroke-width="1.5"/>
<circle cx="295.6" cy="379.7" r="5.9" fill="black" stroke="#000" stroke-width="1.5"/>
<circle cx="330.85" cy="315.58" r="5.9" fill="black" stroke="#000" stroke-width="1.5"/>
<circle cx="366.1" cy="283.38" r="5.9" fill="black" stroke="#000" stroke-width="1.5"/>
<circle cx="401.35" cy="245.02" r="5.9" fill="black" stroke="#000" stroke-width="1.5"/>
<circle cx="436.6" cy="211.14" r="5.9" fill="black" stroke="#000" stroke-width="1.5"/>
<circle cx="471.85" cy="201.62" r="5.9" fill="black" stroke="#000" stroke-width="1.5"/>
<circle cx="507.1" cy="189.3" r="5.9" fill="black" stroke="#000" stroke-width="1.5"/>
<circle cx="542.35" cy="167.74" r="5.9" fill="black" stroke="#000" stroke-width="1.5"/>
<circle cx="577.6" cy="165.5" r="5.9" fill="black" stroke="#000" stroke-width="1.5"/>
<path d="M225.1 70.3L225.1 462.3" stroke="#000" stroke-width="1.5"/>
<text x="583" y="22.8" class="pl">(B)</text>
<text class="at" x="0" y="0" text-anchor="middle" transform="translate(620.9 266.6) rotate(-90) scale(0.965 1)">Ginsenosides concentration (mM)</text>
<text class="at" x="0" y="0" text-anchor="middle" transform="translate(915.95 525.1) scale(0.965 1)">Time (h)</text>
<text class="tk" x="0" y="0" text-anchor="end" transform="translate(660.3 468) scale(0.93 1)">0</text>
<text class="tk" x="0" y="0" text-anchor="end" transform="translate(660.3 412.086) scale(0.93 1)">2</text>
<text class="tk" x="0" y="0" text-anchor="end" transform="translate(660.3 356.171) scale(0.93 1)">4</text>
<text class="tk" x="0" y="0" text-anchor="end" transform="translate(660.3 300.257) scale(0.93 1)">6</text>
<text class="tk" x="0" y="0" text-anchor="end" transform="translate(660.3 244.343) scale(0.93 1)">8</text>
<text class="tk" x="0" y="0" text-anchor="end" transform="translate(660.3 188.429) scale(0.93 1)">10</text>
<text class="tk" x="0" y="0" text-anchor="end" transform="translate(660.3 132.514) scale(0.93 1)">12</text>
<text class="tk" x="0" y="0" text-anchor="end" transform="translate(660.3 76.6) scale(0.93 1)">14</text>
<text class="tk" x="0" y="0" text-anchor="middle" transform="translate(669.9 486.9) scale(0.93 1)">0</text>
<text class="tk" x="0" y="0" text-anchor="middle" transform="translate(705.05 486.9) scale(0.93 1)">12</text>
<text class="tk" x="0" y="0" text-anchor="middle" transform="translate(740.2 486.9) scale(0.93 1)">24</text>
<text class="tk" x="0" y="0" text-anchor="middle" transform="translate(775.35 486.9) scale(0.93 1)">36</text>
<text class="tk" x="0" y="0" text-anchor="middle" transform="translate(810.5 486.9) scale(0.93 1)">48</text>
<text class="tk" x="0" y="0" text-anchor="middle" transform="translate(845.65 486.9) scale(0.93 1)">60</text>
<text class="tk" x="0" y="0" text-anchor="middle" transform="translate(880.8 486.9) scale(0.93 1)">72</text>
<text class="tk" x="0" y="0" text-anchor="middle" transform="translate(915.95 486.9) scale(0.93 1)">84</text>
<text class="tk" x="0" y="0" text-anchor="middle" transform="translate(951.1 486.9) scale(0.93 1)">96</text>
<text class="tk" x="0" y="0" text-anchor="middle" transform="translate(986.25 486.9) scale(0.93 1)">108</text>
<text class="tk" x="0" y="0" text-anchor="middle" transform="translate(1021.4 486.9) scale(0.93 1)">120</text>
<text class="tk" x="0" y="0" text-anchor="middle" transform="translate(1056.55 486.9) scale(0.93 1)">132</text>
<text class="tk" x="0" y="0" text-anchor="middle" transform="translate(1091.7 486.9) scale(0.93 1)">144</text>
<text class="tk" x="0" y="0" text-anchor="middle" transform="translate(1126.85 486.9) scale(0.93 1)">156</text>
<text class="tk" x="0" y="0" text-anchor="middle" transform="translate(1162 486.9) scale(0.93 1)">168</text>
<path d="M1162 70.9L669.9 70.9L669.9 462.3" fill="none" stroke="#000" stroke-width="1.5" stroke-linejoin="miter"/>
<path d="M669.9 462.3L1162.75 462.3" fill="none" stroke="#000" stroke-width="1.5"/>
<path d="M1162 70.15L1162 462.3" fill="none" stroke="#000" stroke-width="1.5"/>
<path d="M669.9 406.386L679.9 406.386" stroke="#000" stroke-width="1.5"/>
<path d="M669.9 350.471L679.9 350.471" stroke="#000" stroke-width="1.5"/>
<path d="M669.9 294.557L679.9 294.557" stroke="#000" stroke-width="1.5"/>
<path d="M669.9 238.643L679.9 238.643" stroke="#000" stroke-width="1.5"/>
<path d="M669.9 182.729L679.9 182.729" stroke="#000" stroke-width="1.5"/>
<path d="M669.9 126.814L679.9 126.814" stroke="#000" stroke-width="1.5"/>
<path d="M680.9 92.4L715.4 92.4" fill="none" stroke="#000" stroke-width="1.7"/>
<circle cx="698.1" cy="92.4" r="5.9" fill="white" stroke="#000" stroke-width="1.5"/>
<text class="lg" x="0" y="0" transform="translate(722.9 96.7) scale(0.95 1)">Rb1</text>
<path d="M680.9 112.14L715.4 112.14" fill="none" stroke="#000" stroke-width="1.7"/>
<path d="M698.1 118.606L703.7 108.907L692.5 108.907Z" fill="white" stroke="#000" stroke-width="1.5"/>
<text class="lg" x="0" y="0" transform="translate(722.9 116.44) scale(0.95 1)">Rc</text>
<path d="M680.9 131.88L715.4 131.88" fill="none" stroke="#000" stroke-width="1.7"/>
<rect x="692.6" y="126.38" width="11" height="11" fill="white" stroke="#000" stroke-width="1.5"/>
<text class="lg" x="0" y="0" transform="translate(722.9 136.18) scale(0.95 1)">Rb2</text>
<path d="M680.9 151.62L715.4 151.62" fill="none" stroke="#000" stroke-width="1.7"/>
<path d="M698.1 144.72L705 151.62L698.1 158.52L691.2 151.62Z" fill="white" stroke="#000" stroke-width="1.5"/>
<text class="lg" x="0" y="0" transform="translate(722.9 155.92) scale(0.95 1)">Rd</text>
<path d="M681 170h2v2h-2zM686 170h2v2h-2zM692 170h2v2h-2zM697 170h2v2h-2zM702 170h2v2h-2zM708 170h2v2h-2zM713 170h2v2h-2z" fill="#3a3a3a"/>
<circle cx="698.1" cy="171.36" r="5.9" fill="#c0c0c0" stroke="#000" stroke-width="1.5"/>
<text class="lg" x="0" y="0" transform="translate(722.9 175.66) scale(0.95 1)">CMc1</text>
<path d="M681 190h2v2h-2zM686 190h2v2h-2zM692 190h2v2h-2zM697 190h2v2h-2zM702 190h2v2h-2zM708 190h2v2h-2zM713 190h2v2h-2z" fill="#3a3a3a"/>
<path d="M698.1 197.566L703.7 187.867L692.5 187.867Z" fill="#c0c0c0" stroke="#000" stroke-width="1.5"/>
<text class="lg" x="0" y="0" transform="translate(722.9 195.4) scale(0.95 1)">CO</text>
<path d="M681 210h2v2h-2zM686 210h2v2h-2zM692 210h2v2h-2zM697 210h2v2h-2zM702 210h2v2h-2zM708 210h2v2h-2zM713 210h2v2h-2z" fill="#3a3a3a"/>
<rect x="692.6" y="205.34" width="11" height="11" fill="#c0c0c0" stroke="#000" stroke-width="1.5"/>
<text class="lg" x="0" y="0" transform="translate(722.9 215.14) scale(0.95 1)">F2</text>
<path d="M681 230h2v2h-2zM686 230h2v2h-2zM692 230h2v2h-2zM697 230h2v2h-2zM702 230h2v2h-2zM708 230h2v2h-2zM713 230h2v2h-2z" fill="#3a3a3a"/>
<path d="M698.1 223.68L705 230.58L698.1 237.48L691.2 230.58Z" fill="#c0c0c0" stroke="#000" stroke-width="1.5"/>
<text class="lg" x="0" y="0" transform="translate(722.9 234.88) scale(0.95 1)">CMc</text>
<path d="M681 249h2v2h-2zM686 249h2v2h-2zM692 249h2v2h-2zM697 249h2v2h-2zM702 249h2v2h-2zM708 249h2v2h-2zM713 249h2v2h-2z" fill="#3a3a3a"/>
<path d="M698.1 243.854L703.7 253.553L692.5 253.553Z" fill="#c0c0c0" stroke="#000" stroke-width="1.5"/>
<text class="lg" x="0" y="0" transform="translate(722.9 254.62) scale(0.95 1)">CY</text>
<path d="M680.9 270.06L715.4 270.06" fill="none" stroke="#000" stroke-width="1.7"/>
<circle cx="698.1" cy="270.06" r="5.9" fill="black" stroke="#000" stroke-width="1.5"/>
<text class="lg" x="0" y="0" transform="translate(722.9 274.36) scale(0.95 1)">CK</text>
<polyline points="705.05,462.3 740.2,459.504 775.35,456.709 810.5,453.074 845.65,462.3 880.8,462.3 915.95,462.3 951.1,462.3 986.25,462.3 1021.4,462.3 1056.55,462.3 1091.7,462.3 1126.85,462.3 1162,462.3" fill="none" stroke="#000" stroke-width="1.7"/>
<circle cx="705.05" cy="462.3" r="5.9" fill="white" stroke="#000" stroke-width="1.5"/>
<circle cx="740.2" cy="459.504" r="5.9" fill="white" stroke="#000" stroke-width="1.5"/>
<circle cx="775.35" cy="456.709" r="5.9" fill="white" stroke="#000" stroke-width="1.5"/>
<circle cx="810.5" cy="453.074" r="5.9" fill="white" stroke="#000" stroke-width="1.5"/>
<circle cx="845.65" cy="462.3" r="5.9" fill="white" stroke="#000" stroke-width="1.5"/>
<circle cx="880.8" cy="462.3" r="5.9" fill="white" stroke="#000" stroke-width="1.5"/>
<circle cx="915.95" cy="462.3" r="5.9" fill="white" stroke="#000" stroke-width="1.5"/>
<circle cx="951.1" cy="462.3" r="5.9" fill="white" stroke="#000" stroke-width="1.5"/>
<circle cx="986.25" cy="462.3" r="5.9" fill="white" stroke="#000" stroke-width="1.5"/>
<circle cx="1021.4" cy="462.3" r="5.9" fill="white" stroke="#000" stroke-width="1.5"/>
<circle cx="1056.55" cy="462.3" r="5.9" fill="white" stroke="#000" stroke-width="1.5"/>
<circle cx="1091.7" cy="462.3" r="5.9" fill="white" stroke="#000" stroke-width="1.5"/>
<circle cx="1126.85" cy="462.3" r="5.9" fill="white" stroke="#000" stroke-width="1.5"/>
<circle cx="1162" cy="462.3" r="5.9" fill="white" stroke="#000" stroke-width="1.5"/>
<polyline points="705.05,462.3 740.2,458.106 775.35,453.913 810.5,443.569 845.65,459.504 880.8,462.3 915.95,462.3 951.1,462.3 986.25,462.3 1021.4,462.3 1056.55,462.3 1091.7,462.3 1126.85,462.3 1162,462.3" fill="none" stroke="#000" stroke-width="1.7"/>
<path d="M705.05 468.766L710.65 459.067L699.45 459.067Z" fill="white" stroke="#000" stroke-width="1.5"/>
<path d="M740.2 464.573L745.8 454.873L734.6 454.873Z" fill="white" stroke="#000" stroke-width="1.5"/>
<path d="M775.35 460.379L780.95 450.68L769.75 450.68Z" fill="white" stroke="#000" stroke-width="1.5"/>
<path d="M810.5 450.035L816.1 440.336L804.9 440.336Z" fill="white" stroke="#000" stroke-width="1.5"/>
<path d="M845.65 465.971L851.25 456.271L840.05 456.271Z" fill="white" stroke="#000" stroke-width="1.5"/>
<path d="M880.8 468.766L886.4 459.067L875.2 459.067Z" fill="white" stroke="#000" stroke-width="1.5"/>
<path d="M915.95 468.766L921.55 459.067L910.35 459.067Z" fill="white" stroke="#000" stroke-width="1.5"/>
<path d="M951.1 468.766L956.7 459.067L945.5 459.067Z" fill="white" stroke="#000" stroke-width="1.5"/>
<path d="M986.25 468.766L991.85 459.067L980.65 459.067Z" fill="white" stroke="#000" stroke-width="1.5"/>
<path d="M1021.4 468.766L1027 459.067L1015.8 459.067Z" fill="white" stroke="#000" stroke-width="1.5"/>
<path d="M1056.55 468.766L1062.15 459.067L1050.95 459.067Z" fill="white" stroke="#000" stroke-width="1.5"/>
<path d="M1091.7 468.766L1097.3 459.067L1086.1 459.067Z" fill="white" stroke="#000" stroke-width="1.5"/>
<path d="M1126.85 468.766L1132.45 459.067L1121.25 459.067Z" fill="white" stroke="#000" stroke-width="1.5"/>
<path d="M1162 468.766L1167.6 459.067L1156.4 459.067Z" fill="white" stroke="#000" stroke-width="1.5"/>
<polyline points="705.05,462.3 740.2,456.709 775.35,458.106 810.5,456.709 845.65,462.3 880.8,462.3 915.95,462.3 951.1,462.3 986.25,462.3 1021.4,462.3 1056.55,462.3 1091.7,462.3 1126.85,462.3 1162,462.3" fill="none" stroke="#000" stroke-width="1.7"/>
<rect x="699.55" y="456.8" width="11" height="11" fill="white" stroke="#000" stroke-width="1.5"/>
<rect x="734.7" y="451.209" width="11" height="11" fill="white" stroke="#000" stroke-width="1.5"/>
<rect x="769.85" y="452.606" width="11" height="11" fill="white" stroke="#000" stroke-width="1.5"/>
<rect x="805" y="451.209" width="11" height="11" fill="white" stroke="#000" stroke-width="1.5"/>
<rect x="840.15" y="456.8" width="11" height="11" fill="white" stroke="#000" stroke-width="1.5"/>
<rect x="875.3" y="456.8" width="11" height="11" fill="white" stroke="#000" stroke-width="1.5"/>
<rect x="910.45" y="456.8" width="11" height="11" fill="white" stroke="#000" stroke-width="1.5"/>
<rect x="945.6" y="456.8" width="11" height="11" fill="white" stroke="#000" stroke-width="1.5"/>
<rect x="980.75" y="456.8" width="11" height="11" fill="white" stroke="#000" stroke-width="1.5"/>
<rect x="1015.9" y="456.8" width="11" height="11" fill="white" stroke="#000" stroke-width="1.5"/>
<rect x="1051.05" y="456.8" width="11" height="11" fill="white" stroke="#000" stroke-width="1.5"/>
<rect x="1086.2" y="456.8" width="11" height="11" fill="white" stroke="#000" stroke-width="1.5"/>
<rect x="1121.35" y="456.8" width="11" height="11" fill="white" stroke="#000" stroke-width="1.5"/>
<rect x="1156.5" y="456.8" width="11" height="11" fill="white" stroke="#000" stroke-width="1.5"/>
<polyline points="705.05,462.3 740.2,404.429 775.35,348.235 810.5,306.579 845.65,421.203 880.8,428.751 915.95,441.053 951.1,457.827 986.25,460.902 1021.4,462.3 1056.55,462.3 1091.7,462.3 1126.85,462.3 1162,462.3" fill="none" stroke="#000" stroke-width="1.7"/>
<path d="M810.5 297.912L810.5 315.245M804.9 297.912L816.1 297.912M804.9 315.245L816.1 315.245" stroke="#000" stroke-width="1.5" fill="none"/>
<path d="M705.05 455.4L711.95 462.3L705.05 469.2L698.15 462.3Z" fill="white" stroke="#000" stroke-width="1.5"/>
<path d="M740.2 397.529L747.1 404.429L740.2 411.329L733.3 404.429Z" fill="white" stroke="#000" stroke-width="1.5"/>
<path d="M775.35 341.335L782.25 348.235L775.35 355.135L768.45 348.235Z" fill="white" stroke="#000" stroke-width="1.5"/>
<path d="M810.5 299.679L817.4 306.579L810.5 313.479L803.6 306.579Z" fill="white" stroke="#000" stroke-width="1.5"/>
<path d="M845.65 414.303L852.55 421.203L845.65 428.103L838.75 421.203Z" fill="white" stroke="#000" stroke-width="1.5"/>
<path d="M880.8 421.851L887.7 428.751L880.8 435.651L873.9 428.751Z" fill="white" stroke="#000" stroke-width="1.5"/>
<path d="M915.95 434.153L922.85 441.053L915.95 447.953L909.05 441.053Z" fill="white" stroke="#000" stroke-width="1.5"/>
<path d="M951.1 450.927L958 457.827L951.1 464.727L944.2 457.827Z" fill="white" stroke="#000" stroke-width="1.5"/>
<path d="M986.25 454.002L993.15 460.902L986.25 467.802L979.35 460.902Z" fill="white" stroke="#000" stroke-width="1.5"/>
<path d="M1021.4 455.4L1028.3 462.3L1021.4 469.2L1014.5 462.3Z" fill="white" stroke="#000" stroke-width="1.5"/>
<path d="M1056.55 455.4L1063.45 462.3L1056.55 469.2L1049.65 462.3Z" fill="white" stroke="#000" stroke-width="1.5"/>
<path d="M1091.7 455.4L1098.6 462.3L1091.7 469.2L1084.8 462.3Z" fill="white" stroke="#000" stroke-width="1.5"/>
<path d="M1126.85 455.4L1133.75 462.3L1126.85 469.2L1119.95 462.3Z" fill="white" stroke="#000" stroke-width="1.5"/>
<path d="M1162 455.4L1168.9 462.3L1162 469.2L1155.1 462.3Z" fill="white" stroke="#000" stroke-width="1.5"/>
<path d="M704 461h2v2h-2zM710 461h2v2h-2zM715 461h2v2h-2zM720 461h2v2h-2zM726 461h2v2h-2zM731 461h2v2h-2zM737 461h2v2h-2zM742 461h2v2h-2zM748 461h2v2h-2zM753 461h2v2h-2zM759 461h2v2h-2zM764 461h2v2h-2zM769 461h2v2h-2zM775 461h2v2h-2zM780 461h2v2h-2zM786 460h2v2h-2zM791 460h2v2h-2zM797 460h2v2h-2zM802 459h2v2h-2zM808 459h2v2h-2zM813 458h2v2h-2zM818 457h2v2h-2zM824 456h2v2h-2zM829 455h2v2h-2zM835 454h2v2h-2zM840 453h2v2h-2zM846 453h2v2h-2zM851 452h2v2h-2zM857 451h2v2h-2zM862 451h2v2h-2zM868 450h2v2h-2zM873 450h2v2h-2zM878 449h2v2h-2zM884 449h2v2h-2zM889 450h2v2h-2zM895 450h2v2h-2zM900 450h2v2h-2zM906 451h2v2h-2zM911 451h2v2h-2zM917 451h2v2h-2zM922 452h2v2h-2zM928 453h2v2h-2zM933 453h2v2h-2zM938 454h2v2h-2zM944 455h2v2h-2zM949 455h2v2h-2zM955 456h2v2h-2zM960 456h2v2h-2zM966 456h2v2h-2zM971 456h2v2h-2zM977 456h2v2h-2zM982 457h2v2h-2zM987 457h2v2h-2zM993 457h2v2h-2zM998 457h2v2h-2zM1004 458h2v2h-2zM1009 458h2v2h-2zM1015 458h2v2h-2zM1020 458h2v2h-2zM1026 459h2v2h-2zM1031 459h2v2h-2zM1036 459h2v2h-2zM1042 459h2v2h-2zM1047 459h2v2h-2zM1053 459h2v2h-2zM1058 459h2v2h-2zM1064 459h2v2h-2zM1069 459h2v2h-2zM1075 459h2v2h-2zM1080 459h2v2h-2zM1086 459h2v2h-2zM1091 459h2v2h-2zM1096 459h2v2h-2zM1102 459h2v2h-2zM1107 459h2v2h-2zM1113 459h2v2h-2zM1118 460h2v2h-2zM1124 460h2v2h-2zM1129 460h2v2h-2zM1135 460h2v2h-2zM1140 460h2v2h-2zM1146 460h2v2h-2zM1151 460h2v2h-2zM1156 460h2v2h-2z" fill="#3a3a3a"/>
<circle cx="705.05" cy="462.3" r="5.9" fill="#c0c0c0" stroke="#000" stroke-width="1.5"/>
<circle cx="740.2" cy="462.3" r="5.9" fill="#c0c0c0" stroke="#000" stroke-width="1.5"/>
<circle cx="775.35" cy="462.3" r="5.9" fill="#c0c0c0" stroke="#000" stroke-width="1.5"/>
<circle cx="810.5" cy="459.504" r="5.9" fill="#c0c0c0" stroke="#000" stroke-width="1.5"/>
<circle cx="845.65" cy="453.633" r="5.9" fill="#c0c0c0" stroke="#000" stroke-width="1.5"/>
<circle cx="880.8" cy="450.278" r="5.9" fill="#c0c0c0" stroke="#000" stroke-width="1.5"/>
<circle cx="915.95" cy="451.956" r="5.9" fill="#c0c0c0" stroke="#000" stroke-width="1.5"/>
<circle cx="951.1" cy="456.429" r="5.9" fill="#c0c0c0" stroke="#000" stroke-width="1.5"/>
<circle cx="986.25" cy="457.827" r="5.9" fill="#c0c0c0" stroke="#000" stroke-width="1.5"/>
<circle cx="1021.4" cy="459.504" r="5.9" fill="#c0c0c0" stroke="#000" stroke-width="1.5"/>
<circle cx="1056.55" cy="459.504" r="5.9" fill="#c0c0c0" stroke="#000" stroke-width="1.5"/>
<circle cx="1091.7" cy="459.504" r="5.9" fill="#c0c0c0" stroke="#000" stroke-width="1.5"/>
<circle cx="1126.85" cy="460.902" r="5.9" fill="#c0c0c0" stroke="#000" stroke-width="1.5"/>
<circle cx="1162" cy="460.902" r="5.9" fill="#c0c0c0" stroke="#000" stroke-width="1.5"/>
<path d="M704 461h2v2h-2zM710 461h2v2h-2zM715 461h2v2h-2zM720 461h2v2h-2zM726 461h2v2h-2zM731 461h2v2h-2zM737 461h2v2h-2zM742 461h2v2h-2zM748 461h2v2h-2zM753 461h2v2h-2zM759 461h2v2h-2zM764 461h2v2h-2zM769 461h2v2h-2zM775 461h2v2h-2zM780 461h2v2h-2zM786 461h2v2h-2zM791 461h2v2h-2zM797 461h2v2h-2zM802 461h2v2h-2zM808 461h2v2h-2zM813 461h2v2h-2zM818 461h2v2h-2zM824 461h2v2h-2zM829 461h2v2h-2zM835 461h2v2h-2zM840 461h2v2h-2zM846 461h2v2h-2zM851 461h2v2h-2zM857 460h2v2h-2zM862 460h2v2h-2zM868 459h2v2h-2zM873 459h2v2h-2zM878 459h2v2h-2zM884 459h2v2h-2zM889 459h2v2h-2zM895 459h2v2h-2zM900 459h2v2h-2zM906 459h2v2h-2zM911 459h2v2h-2zM917 459h2v2h-2zM922 459h2v2h-2zM928 460h2v2h-2zM933 460h2v2h-2zM938 460h2v2h-2zM944 460h2v2h-2zM949 461h2v2h-2zM955 461h2v2h-2zM960 461h2v2h-2zM966 461h2v2h-2zM971 461h2v2h-2zM977 461h2v2h-2zM982 461h2v2h-2zM987 461h2v2h-2zM993 461h2v2h-2zM998 461h2v2h-2zM1004 461h2v2h-2zM1009 461h2v2h-2zM1015 461h2v2h-2zM1020 461h2v2h-2zM1026 461h2v2h-2zM1031 461h2v2h-2zM1036 461h2v2h-2zM1042 461h2v2h-2zM1047 461h2v2h-2zM1053 461h2v2h-2zM1058 461h2v2h-2zM1064 461h2v2h-2zM1069 461h2v2h-2zM1075 461h2v2h-2zM1080 461h2v2h-2zM1086 461h2v2h-2zM1091 461h2v2h-2zM1096 461h2v2h-2zM1102 461h2v2h-2zM1107 461h2v2h-2zM1113 461h2v2h-2zM1118 461h2v2h-2zM1124 461h2v2h-2zM1129 461h2v2h-2zM1135 461h2v2h-2zM1140 461h2v2h-2zM1146 461h2v2h-2zM1151 461h2v2h-2zM1156 461h2v2h-2z" fill="#3a3a3a"/>
<path d="M705.05 468.766L710.65 459.067L699.45 459.067Z" fill="#c0c0c0" stroke="#000" stroke-width="1.5"/>
<path d="M740.2 468.766L745.8 459.067L734.6 459.067Z" fill="#c0c0c0" stroke="#000" stroke-width="1.5"/>
<path d="M775.35 468.766L780.95 459.067L769.75 459.067Z" fill="#c0c0c0" stroke="#000" stroke-width="1.5"/>
<path d="M810.5 468.766L816.1 459.067L804.9 459.067Z" fill="#c0c0c0" stroke="#000" stroke-width="1.5"/>
<path d="M845.65 468.766L851.25 459.067L840.05 459.067Z" fill="#c0c0c0" stroke="#000" stroke-width="1.5"/>
<path d="M880.8 465.971L886.4 456.271L875.2 456.271Z" fill="#c0c0c0" stroke="#000" stroke-width="1.5"/>
<path d="M915.95 466.53L921.55 456.83L910.35 456.83Z" fill="#c0c0c0" stroke="#000" stroke-width="1.5"/>
<path d="M951.1 468.207L956.7 458.508L945.5 458.508Z" fill="#c0c0c0" stroke="#000" stroke-width="1.5"/>
<path d="M986.25 468.766L991.85 459.067L980.65 459.067Z" fill="#c0c0c0" stroke="#000" stroke-width="1.5"/>
<path d="M1021.4 468.766L1027 459.067L1015.8 459.067Z" fill="#c0c0c0" stroke="#000" stroke-width="1.5"/>
<path d="M1056.55 468.766L1062.15 459.067L1050.95 459.067Z" fill="#c0c0c0" stroke="#000" stroke-width="1.5"/>
<path d="M1091.7 468.766L1097.3 459.067L1086.1 459.067Z" fill="#c0c0c0" stroke="#000" stroke-width="1.5"/>
<path d="M1126.85 468.766L1132.45 459.067L1121.25 459.067Z" fill="#c0c0c0" stroke="#000" stroke-width="1.5"/>
<path d="M1162 468.766L1167.6 459.067L1156.4 459.067Z" fill="#c0c0c0" stroke="#000" stroke-width="1.5"/>
<path d="M704 461h2v2h-2zM710 461h2v2h-2zM715 460h2v2h-2zM720 459h2v2h-2zM726 459h2v2h-2zM731 458h2v2h-2zM737 457h2v2h-2zM742 456h2v2h-2zM748 455h2v2h-2zM753 453h2v2h-2zM759 452h2v2h-2zM764 451h2v2h-2zM769 449h2v2h-2zM775 448h2v2h-2zM780 444h2v2h-2zM786 440h2v2h-2zM791 436h2v2h-2zM797 433h2v2h-2zM802 429h2v2h-2zM808 425h2v2h-2zM811 421h2v2h-2zM812 415h2v2h-2zM814 410h2v2h-2zM816 404h2v2h-2zM817 399h2v2h-2zM819 393h2v2h-2zM821 388h2v2h-2zM822 382h2v2h-2zM824 377h2v2h-2zM826 372h2v2h-2zM827 366h2v2h-2zM829 361h2v2h-2zM831 355h2v2h-2zM832 350h2v2h-2zM834 344h2v2h-2zM836 339h2v2h-2zM837 333h2v2h-2zM839 328h2v2h-2zM841 322h2v2h-2zM843 317h2v2h-2zM844 312h2v2h-2zM849 307h2v2h-2zM854 303h2v2h-2zM859 299h2v2h-2zM865 295h2v2h-2zM870 291h2v2h-2zM876 287h2v2h-2zM881 284h2v2h-2zM887 279h2v2h-2zM892 275h2v2h-2zM898 271h2v2h-2zM903 267h2v2h-2zM909 263h2v2h-2zM914 259h2v2h-2zM919 262h2v2h-2zM925 267h2v2h-2zM930 272h2v2h-2zM936 277h2v2h-2zM941 282h2v2h-2zM947 286h2v2h-2zM952 291h2v2h-2zM958 295h2v2h-2zM963 300h2v2h-2zM968 304h2v2h-2zM974 308h2v2h-2zM979 312h2v2h-2zM985 317h2v2h-2zM990 319h2v2h-2zM996 321h2v2h-2zM1001 323h2v2h-2zM1007 325h2v2h-2zM1012 326h2v2h-2zM1018 328h2v2h-2zM1023 331h2v2h-2zM1028 335h2v2h-2zM1034 339h2v2h-2zM1039 342h2v2h-2zM1045 346h2v2h-2zM1050 350h2v2h-2zM1056 354h2v2h-2zM1061 355h2v2h-2zM1067 356h2v2h-2zM1072 357h2v2h-2zM1077 359h2v2h-2zM1083 360h2v2h-2zM1088 361h2v2h-2zM1094 364h2v2h-2zM1099 368h2v2h-2zM1105 372h2v2h-2zM1110 376h2v2h-2zM1116 380h2v2h-2zM1121 384h2v2h-2zM1127 387h2v2h-2zM1132 387h2v2h-2zM1137 387h2v2h-2zM1143 386h2v2h-2zM1148 386h2v2h-2zM1154 386h2v2h-2zM1159 386h2v2h-2z" fill="#3a3a3a"/>
<path d="M915.95 245.632L915.95 273.03M910.35 245.632L921.55 245.632M910.35 273.03L921.55 273.03" stroke="#000" stroke-width="1.5" fill="none"/>
<path d="M1056.55 349.074L1056.55 360.256M1050.95 349.074L1062.15 349.074M1050.95 360.256L1062.15 360.256" stroke="#000" stroke-width="1.5" fill="none"/>
<rect x="699.55" y="456.8" width="11" height="11" fill="#c0c0c0" stroke="#000" stroke-width="1.5"/>
<rect x="734.7" y="452.606" width="11" height="11" fill="#c0c0c0" stroke="#000" stroke-width="1.5"/>
<rect x="769.85" y="443.381" width="11" height="11" fill="#c0c0c0" stroke="#000" stroke-width="1.5"/>
<rect x="805" y="419.617" width="11" height="11" fill="#c0c0c0" stroke="#000" stroke-width="1.5"/>
<rect x="840.15" y="305.552" width="11" height="11" fill="#c0c0c0" stroke="#000" stroke-width="1.5"/>
<rect x="875.3" y="280.111" width="11" height="11" fill="#c0c0c0" stroke="#000" stroke-width="1.5"/>
<rect x="910.45" y="253.831" width="11" height="11" fill="#c0c0c0" stroke="#000" stroke-width="1.5"/>
<rect x="945.6" y="284.864" width="11" height="11" fill="#c0c0c0" stroke="#000" stroke-width="1.5"/>
<rect x="980.75" y="312.541" width="11" height="11" fill="#c0c0c0" stroke="#000" stroke-width="1.5"/>
<rect x="1015.9" y="324.842" width="11" height="11" fill="#c0c0c0" stroke="#000" stroke-width="1.5"/>
<rect x="1051.05" y="349.165" width="11" height="11" fill="#c0c0c0" stroke="#000" stroke-width="1.5"/>
<rect x="1086.2" y="357.273" width="11" height="11" fill="#c0c0c0" stroke="#000" stroke-width="1.5"/>
<rect x="1121.35" y="382.434" width="11" height="11" fill="#c0c0c0" stroke="#000" stroke-width="1.5"/>
<rect x="1156.5" y="381.316" width="11" height="11" fill="#c0c0c0" stroke="#000" stroke-width="1.5"/>
<path d="M704 461h2v2h-2zM710 461h2v2h-2zM715 461h2v2h-2zM720 461h2v2h-2zM726 461h2v2h-2zM731 461h2v2h-2zM737 461h2v2h-2zM742 461h2v2h-2zM748 461h2v2h-2zM753 461h2v2h-2zM759 461h2v2h-2zM764 461h2v2h-2zM769 461h2v2h-2zM775 461h2v2h-2zM780 461h2v2h-2zM786 460h2v2h-2zM791 460h2v2h-2zM797 460h2v2h-2zM802 459h2v2h-2zM808 459h2v2h-2zM813 457h2v2h-2zM818 455h2v2h-2zM824 453h2v2h-2zM829 451h2v2h-2zM835 448h2v2h-2zM840 446h2v2h-2zM846 444h2v2h-2zM851 441h2v2h-2zM857 439h2v2h-2zM862 436h2v2h-2zM868 433h2v2h-2zM873 431h2v2h-2zM878 428h2v2h-2zM884 426h2v2h-2zM889 424h2v2h-2zM895 422h2v2h-2zM900 421h2v2h-2zM906 419h2v2h-2zM911 417h2v2h-2zM917 416h2v2h-2zM922 416h2v2h-2zM928 416h2v2h-2zM933 415h2v2h-2zM938 415h2v2h-2zM944 415h2v2h-2zM949 415h2v2h-2zM955 415h2v2h-2zM960 414h2v2h-2zM966 413h2v2h-2zM971 412h2v2h-2zM977 412h2v2h-2zM982 411h2v2h-2zM987 411h2v2h-2zM993 412h2v2h-2zM998 412h2v2h-2zM1004 413h2v2h-2zM1009 413h2v2h-2zM1015 414h2v2h-2zM1020 415h2v2h-2zM1026 416h2v2h-2zM1031 417h2v2h-2zM1036 419h2v2h-2zM1042 420h2v2h-2zM1047 421h2v2h-2zM1053 423h2v2h-2zM1058 423h2v2h-2zM1064 423h2v2h-2zM1069 423h2v2h-2zM1075 423h2v2h-2zM1080 423h2v2h-2zM1086 424h2v2h-2zM1091 424h2v2h-2zM1096 425h2v2h-2zM1102 426h2v2h-2zM1107 427h2v2h-2zM1113 428h2v2h-2zM1118 429h2v2h-2zM1124 430h2v2h-2zM1129 431h2v2h-2zM1135 433h2v2h-2zM1140 435h2v2h-2zM1146 437h2v2h-2zM1151 439h2v2h-2zM1156 441h2v2h-2z" fill="#3a3a3a"/>
<path d="M705.05 455.4L711.95 462.3L705.05 469.2L698.15 462.3Z" fill="#c0c0c0" stroke="#000" stroke-width="1.5"/>
<path d="M740.2 455.4L747.1 462.3L740.2 469.2L733.3 462.3Z" fill="#c0c0c0" stroke="#000" stroke-width="1.5"/>
<path d="M775.35 455.4L782.25 462.3L775.35 469.2L768.45 462.3Z" fill="#c0c0c0" stroke="#000" stroke-width="1.5"/>
<path d="M810.5 452.604L817.4 459.504L810.5 466.404L803.6 459.504Z" fill="#c0c0c0" stroke="#000" stroke-width="1.5"/>
<path d="M845.65 438.626L852.55 445.526L845.65 452.426L838.75 445.526Z" fill="#c0c0c0" stroke="#000" stroke-width="1.5"/>
<path d="M880.8 421.572L887.7 428.472L880.8 435.372L873.9 428.472Z" fill="#c0c0c0" stroke="#000" stroke-width="1.5"/>
<path d="M915.95 409.83L922.85 416.73L915.95 423.63L909.05 416.73Z" fill="#c0c0c0" stroke="#000" stroke-width="1.5"/>
<path d="M951.1 409.271L958 416.171L951.1 423.071L944.2 416.171Z" fill="#c0c0c0" stroke="#000" stroke-width="1.5"/>
<path d="M986.25 404.798L993.15 411.698L986.25 418.598L979.35 411.698Z" fill="#c0c0c0" stroke="#000" stroke-width="1.5"/>
<path d="M1021.4 408.712L1028.3 415.612L1021.4 422.512L1014.5 415.612Z" fill="#c0c0c0" stroke="#000" stroke-width="1.5"/>
<path d="M1056.55 417.378L1063.45 424.278L1056.55 431.178L1049.65 424.278Z" fill="#c0c0c0" stroke="#000" stroke-width="1.5"/>
<path d="M1091.7 417.658L1098.6 424.558L1091.7 431.458L1084.8 424.558Z" fill="#c0c0c0" stroke="#000" stroke-width="1.5"/>
<path d="M1126.85 424.368L1133.75 431.268L1126.85 438.168L1119.95 431.268Z" fill="#c0c0c0" stroke="#000" stroke-width="1.5"/>
<path d="M1162 436.948L1168.9 443.848L1162 450.748L1155.1 443.848Z" fill="#c0c0c0" stroke="#000" stroke-width="1.5"/>
<path d="M704 461h2v2h-2zM710 461h2v2h-2zM715 461h2v2h-2zM720 461h2v2h-2zM726 461h2v2h-2zM731 461h2v2h-2zM737 461h2v2h-2zM742 461h2v2h-2zM748 461h2v2h-2zM753 461h2v2h-2zM759 461h2v2h-2zM764 461h2v2h-2zM769 461h2v2h-2zM775 461h2v2h-2zM780 461h2v2h-2zM786 461h2v2h-2zM791 461h2v2h-2zM797 460h2v2h-2zM802 460h2v2h-2zM808 460h2v2h-2zM813 460h2v2h-2zM818 459h2v2h-2zM824 458h2v2h-2zM829 458h2v2h-2zM835 457h2v2h-2zM840 457h2v2h-2zM846 456h2v2h-2zM851 455h2v2h-2zM857 454h2v2h-2zM862 453h2v2h-2zM868 452h2v2h-2zM873 451h2v2h-2zM878 450h2v2h-2zM884 449h2v2h-2zM889 448h2v2h-2zM895 447h2v2h-2zM900 446h2v2h-2zM906 445h2v2h-2zM911 445h2v2h-2zM917 444h2v2h-2zM922 444h2v2h-2zM928 444h2v2h-2zM933 444h2v2h-2zM938 444h2v2h-2zM944 444h2v2h-2zM949 445h2v2h-2zM955 444h2v2h-2zM960 444h2v2h-2zM966 444h2v2h-2zM971 444h2v2h-2zM977 444h2v2h-2zM982 444h2v2h-2zM987 444h2v2h-2zM993 444h2v2h-2zM998 445h2v2h-2zM1004 445h2v2h-2zM1009 445h2v2h-2zM1015 445h2v2h-2zM1020 445h2v2h-2zM1026 445h2v2h-2zM1031 446h2v2h-2zM1036 446h2v2h-2zM1042 447h2v2h-2zM1047 447h2v2h-2zM1053 448h2v2h-2zM1058 448h2v2h-2zM1064 448h2v2h-2zM1069 448h2v2h-2zM1075 448h2v2h-2zM1080 449h2v2h-2zM1086 449h2v2h-2zM1091 449h2v2h-2zM1096 449h2v2h-2zM1102 450h2v2h-2zM1107 450h2v2h-2zM1113 451h2v2h-2zM1118 451h2v2h-2zM1124 451h2v2h-2zM1129 452h2v2h-2zM1135 453h2v2h-2zM1140 454h2v2h-2zM1146 454h2v2h-2zM1151 455h2v2h-2zM1156 456h2v2h-2z" fill="#3a3a3a"/>
<path d="M705.05 455.834L710.65 465.533L699.45 465.533Z" fill="#c0c0c0" stroke="#000" stroke-width="1.5"/>
<path d="M740.2 455.834L745.8 465.533L734.6 465.533Z" fill="#c0c0c0" stroke="#000" stroke-width="1.5"/>
<path d="M775.35 455.834L780.95 465.533L769.75 465.533Z" fill="#c0c0c0" stroke="#000" stroke-width="1.5"/>
<path d="M810.5 454.436L816.1 464.135L804.9 464.135Z" fill="#c0c0c0" stroke="#000" stroke-width="1.5"/>
<path d="M845.65 450.801L851.25 460.501L840.05 460.501Z" fill="#c0c0c0" stroke="#000" stroke-width="1.5"/>
<path d="M880.8 443.812L886.4 453.512L875.2 453.512Z" fill="#c0c0c0" stroke="#000" stroke-width="1.5"/>
<path d="M915.95 438.5L921.55 448.2L910.35 448.2Z" fill="#c0c0c0" stroke="#000" stroke-width="1.5"/>
<path d="M951.1 439.059L956.7 448.759L945.5 448.759Z" fill="#c0c0c0" stroke="#000" stroke-width="1.5"/>
<path d="M986.25 438.78L991.85 448.479L980.65 448.479Z" fill="#c0c0c0" stroke="#000" stroke-width="1.5"/>
<path d="M1021.4 439.619L1027 449.318L1015.8 449.318Z" fill="#c0c0c0" stroke="#000" stroke-width="1.5"/>
<path d="M1056.55 442.414L1062.15 452.114L1050.95 452.114Z" fill="#c0c0c0" stroke="#000" stroke-width="1.5"/>
<path d="M1091.7 443.533L1097.3 453.232L1086.1 453.232Z" fill="#c0c0c0" stroke="#000" stroke-width="1.5"/>
<path d="M1126.85 446.049L1132.45 455.748L1121.25 455.748Z" fill="#c0c0c0" stroke="#000" stroke-width="1.5"/>
<path d="M1162 451.361L1167.6 461.06L1156.4 461.06Z" fill="#c0c0c0" stroke="#000" stroke-width="1.5"/>
<polyline points="705.05,462.3 740.2,462.3 775.35,462.3 810.5,462.3 845.65,395.482 880.8,363.611 915.95,310.772 951.1,259.052 986.25,230.535 1021.4,210.965 1056.55,172.384 1091.7,163.718 1126.85,127.933 1162,112.556" fill="none" stroke="#000" stroke-width="1.7"/>
<path d="M951.1 253.46L951.1 264.643M945.5 253.46L956.7 253.46M945.5 264.643L956.7 264.643" stroke="#000" stroke-width="1.5" fill="none"/>
<path d="M986.25 223.826L986.25 237.245M980.65 223.826L991.85 223.826M980.65 237.245L991.85 237.245" stroke="#000" stroke-width="1.5" fill="none"/>
<path d="M1021.4 204.535L1021.4 217.395M1015.8 204.535L1027 204.535M1015.8 217.395L1027 217.395" stroke="#000" stroke-width="1.5" fill="none"/>
<path d="M1056.55 169.589L1056.55 175.18M1050.95 169.589L1062.15 169.589M1050.95 175.18L1062.15 175.18" stroke="#000" stroke-width="1.5" fill="none"/>
<path d="M1091.7 151.137L1091.7 176.298M1086.1 151.137L1097.3 151.137M1086.1 176.298L1097.3 176.298" stroke="#000" stroke-width="1.5" fill="none"/>
<path d="M1126.85 115.911L1126.85 139.954M1121.25 115.911L1132.45 115.911M1121.25 139.954L1132.45 139.954" stroke="#000" stroke-width="1.5" fill="none"/>
<path d="M1162 101.373L1162 123.739M1156.4 101.373L1167.6 101.373M1156.4 123.739L1167.6 123.739" stroke="#000" stroke-width="1.5" fill="none"/>
<circle cx="705.05" cy="462.3" r="5.9" fill="black" stroke="#000" stroke-width="1.5"/>
<circle cx="740.2" cy="462.3" r="5.9" fill="black" stroke="#000" stroke-width="1.5"/>
<circle cx="775.35" cy="462.3" r="5.9" fill="black" stroke="#000" stroke-width="1.5"/>
<circle cx="810.5" cy="462.3" r="5.9" fill="black" stroke="#000" stroke-width="1.5"/>
<circle cx="845.65" cy="395.482" r="5.9" fill="black" stroke="#000" stroke-width="1.5"/>
<circle cx="880.8" cy="363.611" r="5.9" fill="black" stroke="#000" stroke-width="1.5"/>
<circle cx="915.95" cy="310.772" r="5.9" fill="black" stroke="#000" stroke-width="1.5"/>
<circle cx="951.1" cy="259.052" r="5.9" fill="black" stroke="#000" stroke-width="1.5"/>
<circle cx="986.25" cy="230.535" r="5.9" fill="black" stroke="#000" stroke-width="1.5"/>
<circle cx="1021.4" cy="210.965" r="5.9" fill="black" stroke="#000" stroke-width="1.5"/>
<circle cx="1056.55" cy="172.384" r="5.9" fill="black" stroke="#000" stroke-width="1.5"/>
<circle cx="1091.7" cy="163.718" r="5.9" fill="black" stroke="#000" stroke-width="1.5"/>
<circle cx="1126.85" cy="127.933" r="5.9" fill="black" stroke="#000" stroke-width="1.5"/>
<circle cx="1162" cy="112.556" r="5.9" fill="black" stroke="#000" stroke-width="1.5"/>
<path d="M810.5 70.9L810.5 462.3" stroke="#000" stroke-width="1.5"/>
<text x="1164.8" y="22.8" class="pl">(C)</text>
<text class="at" x="0" y="0" text-anchor="middle" transform="translate(1207.8 266.6) rotate(-90) scale(0.965 1)">Ginsenosides concentration (mM)</text>
<text class="at" x="0" y="0" text-anchor="middle" transform="translate(1502.85 525.1) scale(0.965 1)">Time (h)</text>
<text class="tk" x="0" y="0" text-anchor="end" transform="translate(1247.2 468) scale(0.93 1)">0</text>
<text class="tk" x="0" y="0" text-anchor="end" transform="translate(1247.2 412.086) scale(0.93 1)">2</text>
<text class="tk" x="0" y="0" text-anchor="end" transform="translate(1247.2 356.171) scale(0.93 1)">4</text>
<text class="tk" x="0" y="0" text-anchor="end" transform="translate(1247.2 300.257) scale(0.93 1)">6</text>
<text class="tk" x="0" y="0" text-anchor="end" transform="translate(1247.2 244.343) scale(0.93 1)">8</text>
<text class="tk" x="0" y="0" text-anchor="end" transform="translate(1247.2 188.429) scale(0.93 1)">10</text>
<text class="tk" x="0" y="0" text-anchor="end" transform="translate(1247.2 132.514) scale(0.93 1)">12</text>
<text class="tk" x="0" y="0" text-anchor="end" transform="translate(1247.2 76.6) scale(0.93 1)">14</text>
<text class="tk" x="0" y="0" text-anchor="middle" transform="translate(1256.8 486.9) scale(0.93 1)">0</text>
<text class="tk" x="0" y="0" text-anchor="middle" transform="translate(1291.95 486.9) scale(0.93 1)">12</text>
<text class="tk" x="0" y="0" text-anchor="middle" transform="translate(1327.1 486.9) scale(0.93 1)">24</text>
<text class="tk" x="0" y="0" text-anchor="middle" transform="translate(1362.25 486.9) scale(0.93 1)">36</text>
<text class="tk" x="0" y="0" text-anchor="middle" transform="translate(1397.4 486.9) scale(0.93 1)">48</text>
<text class="tk" x="0" y="0" text-anchor="middle" transform="translate(1432.55 486.9) scale(0.93 1)">60</text>
<text class="tk" x="0" y="0" text-anchor="middle" transform="translate(1467.7 486.9) scale(0.93 1)">72</text>
<text class="tk" x="0" y="0" text-anchor="middle" transform="translate(1502.85 486.9) scale(0.93 1)">84</text>
<text class="tk" x="0" y="0" text-anchor="middle" transform="translate(1538 486.9) scale(0.93 1)">96</text>
<text class="tk" x="0" y="0" text-anchor="middle" transform="translate(1573.15 486.9) scale(0.93 1)">108</text>
<text class="tk" x="0" y="0" text-anchor="middle" transform="translate(1608.3 486.9) scale(0.93 1)">120</text>
<text class="tk" x="0" y="0" text-anchor="middle" transform="translate(1643.45 486.9) scale(0.93 1)">132</text>
<text class="tk" x="0" y="0" text-anchor="middle" transform="translate(1678.6 486.9) scale(0.93 1)">144</text>
<text class="tk" x="0" y="0" text-anchor="middle" transform="translate(1713.75 486.9) scale(0.93 1)">156</text>
<text class="tk" x="0" y="0" text-anchor="middle" transform="translate(1748.9 486.9) scale(0.93 1)">168</text>
<path d="M1748.9 70.9L1256.8 70.9L1256.8 462.3" fill="none" stroke="#000" stroke-width="1.5" stroke-linejoin="miter"/>
<path d="M1256.8 462.3L1749.65 462.3" fill="none" stroke="#000" stroke-width="1.5"/>
<path d="M1748.9 70.15L1748.9 462.3" fill="none" stroke="#000" stroke-width="1.5"/>
<path d="M1256.8 406.386L1266.8 406.386" stroke="#000" stroke-width="1.5"/>
<path d="M1256.8 350.471L1266.8 350.471" stroke="#000" stroke-width="1.5"/>
<path d="M1256.8 294.557L1266.8 294.557" stroke="#000" stroke-width="1.5"/>
<path d="M1256.8 238.643L1266.8 238.643" stroke="#000" stroke-width="1.5"/>
<path d="M1256.8 182.729L1266.8 182.729" stroke="#000" stroke-width="1.5"/>
<path d="M1256.8 126.814L1266.8 126.814" stroke="#000" stroke-width="1.5"/>
<path d="M1267.8 92.4L1302.3 92.4" fill="none" stroke="#000" stroke-width="1.7"/>
<circle cx="1285" cy="92.4" r="5.9" fill="white" stroke="#000" stroke-width="1.5"/>
<text class="lg" x="0" y="0" transform="translate(1309.8 96.7) scale(0.95 1)">Rb1</text>
<path d="M1267.8 112.14L1302.3 112.14" fill="none" stroke="#000" stroke-width="1.7"/>
<path d="M1285 118.606L1290.6 108.907L1279.4 108.907Z" fill="white" stroke="#000" stroke-width="1.5"/>
<text class="lg" x="0" y="0" transform="translate(1309.8 116.44) scale(0.95 1)">Rc</text>
<path d="M1267.8 131.88L1302.3 131.88" fill="none" stroke="#000" stroke-width="1.7"/>
<rect x="1279.5" y="126.38" width="11" height="11" fill="white" stroke="#000" stroke-width="1.5"/>
<text class="lg" x="0" y="0" transform="translate(1309.8 136.18) scale(0.95 1)">Rb2</text>
<path d="M1267.8 151.62L1302.3 151.62" fill="none" stroke="#000" stroke-width="1.7"/>
<path d="M1285 144.72L1291.9 151.62L1285 158.52L1278.1 151.62Z" fill="white" stroke="#000" stroke-width="1.5"/>
<text class="lg" x="0" y="0" transform="translate(1309.8 155.92) scale(0.95 1)">Rd</text>
<path d="M1268 170h2v2h-2zM1273 170h2v2h-2zM1278 170h2v2h-2zM1284 170h2v2h-2zM1289 170h2v2h-2zM1295 170h2v2h-2zM1300 170h2v2h-2z" fill="#3a3a3a"/>
<circle cx="1285" cy="171.36" r="5.9" fill="#c0c0c0" stroke="#000" stroke-width="1.5"/>
<text class="lg" x="0" y="0" transform="translate(1309.8 175.66) scale(0.95 1)">CMc1</text>
<path d="M1268 190h2v2h-2zM1273 190h2v2h-2zM1278 190h2v2h-2zM1284 190h2v2h-2zM1289 190h2v2h-2zM1295 190h2v2h-2zM1300 190h2v2h-2z" fill="#3a3a3a"/>
<path d="M1285 197.566L1290.6 187.867L1279.4 187.867Z" fill="#c0c0c0" stroke="#000" stroke-width="1.5"/>
<text class="lg" x="0" y="0" transform="translate(1309.8 195.4) scale(0.95 1)">CO</text>
<path d="M1268 210h2v2h-2zM1273 210h2v2h-2zM1278 210h2v2h-2zM1284 210h2v2h-2zM1289 210h2v2h-2zM1295 210h2v2h-2zM1300 210h2v2h-2z" fill="#3a3a3a"/>
<rect x="1279.5" y="205.34" width="11" height="11" fill="#c0c0c0" stroke="#000" stroke-width="1.5"/>
<text class="lg" x="0" y="0" transform="translate(1309.8 215.14) scale(0.95 1)">F2</text>
<path d="M1268 230h2v2h-2zM1273 230h2v2h-2zM1278 230h2v2h-2zM1284 230h2v2h-2zM1289 230h2v2h-2zM1295 230h2v2h-2zM1300 230h2v2h-2z" fill="#3a3a3a"/>
<path d="M1285 223.68L1291.9 230.58L1285 237.48L1278.1 230.58Z" fill="#c0c0c0" stroke="#000" stroke-width="1.5"/>
<text class="lg" x="0" y="0" transform="translate(1309.8 234.88) scale(0.95 1)">CMc</text>
<path d="M1268 249h2v2h-2zM1273 249h2v2h-2zM1278 249h2v2h-2zM1284 249h2v2h-2zM1289 249h2v2h-2zM1295 249h2v2h-2zM1300 249h2v2h-2z" fill="#3a3a3a"/>
<path d="M1285 243.854L1290.6 253.553L1279.4 253.553Z" fill="#c0c0c0" stroke="#000" stroke-width="1.5"/>
<text class="lg" x="0" y="0" transform="translate(1309.8 254.62) scale(0.95 1)">CY</text>
<path d="M1267.8 270.06L1302.3 270.06" fill="none" stroke="#000" stroke-width="1.7"/>
<circle cx="1285" cy="270.06" r="5.9" fill="black" stroke="#000" stroke-width="1.5"/>
<text class="lg" x="0" y="0" transform="translate(1309.8 274.36) scale(0.95 1)">CK</text>
<polyline points="1291.95,462.3 1327.1,420.364 1362.25,420.364 1397.4,459.504 1432.55,462.3 1467.7,462.3 1502.85,462.3 1538,462.3 1573.15,462.3 1608.3,462.3 1643.45,462.3 1678.6,462.3 1713.75,462.3 1748.9,462.3" fill="none" stroke="#000" stroke-width="1.7"/>
<circle cx="1291.95" cy="462.3" r="5.9" fill="white" stroke="#000" stroke-width="1.5"/>
<circle cx="1327.1" cy="420.364" r="5.9" fill="white" stroke="#000" stroke-width="1.5"/>
<circle cx="1362.25" cy="420.364" r="5.9" fill="white" stroke="#000" stroke-width="1.5"/>
<circle cx="1397.4" cy="459.504" r="5.9" fill="white" stroke="#000" stroke-width="1.5"/>
<circle cx="1432.55" cy="462.3" r="5.9" fill="white" stroke="#000" stroke-width="1.5"/>
<circle cx="1467.7" cy="462.3" r="5.9" fill="white" stroke="#000" stroke-width="1.5"/>
<circle cx="1502.85" cy="462.3" r="5.9" fill="white" stroke="#000" stroke-width="1.5"/>
<circle cx="1538" cy="462.3" r="5.9" fill="white" stroke="#000" stroke-width="1.5"/>
<circle cx="1573.15" cy="462.3" r="5.9" fill="white" stroke="#000" stroke-width="1.5"/>
<circle cx="1608.3" cy="462.3" r="5.9" fill="white" stroke="#000" stroke-width="1.5"/>
<circle cx="1643.45" cy="462.3" r="5.9" fill="white" stroke="#000" stroke-width="1.5"/>
<circle cx="1678.6" cy="462.3" r="5.9" fill="white" stroke="#000" stroke-width="1.5"/>
<circle cx="1713.75" cy="462.3" r="5.9" fill="white" stroke="#000" stroke-width="1.5"/>
<circle cx="1748.9" cy="462.3" r="5.9" fill="white" stroke="#000" stroke-width="1.5"/>
<polyline points="1291.95,462.3 1327.1,453.074 1362.25,444.967 1397.4,441.053 1432.55,460.902 1467.7,462.3 1502.85,462.3 1538,462.3 1573.15,462.3 1608.3,462.3 1643.45,462.3 1678.6,462.3 1713.75,462.3 1748.9,462.3" fill="none" stroke="#000" stroke-width="1.7"/>
<path d="M1291.95 468.766L1297.55 459.067L1286.35 459.067Z" fill="white" stroke="#000" stroke-width="1.5"/>
<path d="M1327.1 459.54L1332.7 449.841L1321.5 449.841Z" fill="white" stroke="#000" stroke-width="1.5"/>
<path d="M1362.25 451.433L1367.85 441.733L1356.65 441.733Z" fill="white" stroke="#000" stroke-width="1.5"/>
<path d="M1397.4 447.519L1403 437.819L1391.8 437.819Z" fill="white" stroke="#000" stroke-width="1.5"/>
<path d="M1432.55 467.368L1438.15 457.669L1426.95 457.669Z" fill="white" stroke="#000" stroke-width="1.5"/>
<path d="M1467.7 468.766L1473.3 459.067L1462.1 459.067Z" fill="white" stroke="#000" stroke-width="1.5"/>
<path d="M1502.85 468.766L1508.45 459.067L1497.25 459.067Z" fill="white" stroke="#000" stroke-width="1.5"/>
<path d="M1538 468.766L1543.6 459.067L1532.4 459.067Z" fill="white" stroke="#000" stroke-width="1.5"/>
<path d="M1573.15 468.766L1578.75 459.067L1567.55 459.067Z" fill="white" stroke="#000" stroke-width="1.5"/>
<path d="M1608.3 468.766L1613.9 459.067L1602.7 459.067Z" fill="white" stroke="#000" stroke-width="1.5"/>
<path d="M1643.45 468.766L1649.05 459.067L1637.85 459.067Z" fill="white" stroke="#000" stroke-width="1.5"/>
<path d="M1678.6 468.766L1684.2 459.067L1673 459.067Z" fill="white" stroke="#000" stroke-width="1.5"/>
<path d="M1713.75 468.766L1719.35 459.067L1708.15 459.067Z" fill="white" stroke="#000" stroke-width="1.5"/>
<path d="M1748.9 468.766L1754.5 459.067L1743.3 459.067Z" fill="white" stroke="#000" stroke-width="1.5"/>
<polyline points="1291.95,462.3 1327.1,459.504 1362.25,459.504 1397.4,456.709 1432.55,462.3 1467.7,462.3 1502.85,462.3 1538,462.3 1573.15,462.3 1608.3,462.3 1643.45,462.3 1678.6,462.3 1713.75,462.3 1748.9,462.3" fill="none" stroke="#000" stroke-width="1.7"/>
<rect x="1286.45" y="456.8" width="11" height="11" fill="white" stroke="#000" stroke-width="1.5"/>
<rect x="1321.6" y="454.004" width="11" height="11" fill="white" stroke="#000" stroke-width="1.5"/>
<rect x="1356.75" y="454.004" width="11" height="11" fill="white" stroke="#000" stroke-width="1.5"/>
<rect x="1391.9" y="451.209" width="11" height="11" fill="white" stroke="#000" stroke-width="1.5"/>
<rect x="1427.05" y="456.8" width="11" height="11" fill="white" stroke="#000" stroke-width="1.5"/>
<rect x="1462.2" y="456.8" width="11" height="11" fill="white" stroke="#000" stroke-width="1.5"/>
<rect x="1497.35" y="456.8" width="11" height="11" fill="white" stroke="#000" stroke-width="1.5"/>
<rect x="1532.5" y="456.8" width="11" height="11" fill="white" stroke="#000" stroke-width="1.5"/>
<rect x="1567.65" y="456.8" width="11" height="11" fill="white" stroke="#000" stroke-width="1.5"/>
<rect x="1602.8" y="456.8" width="11" height="11" fill="white" stroke="#000" stroke-width="1.5"/>
<rect x="1637.95" y="456.8" width="11" height="11" fill="white" stroke="#000" stroke-width="1.5"/>
<rect x="1673.1" y="456.8" width="11" height="11" fill="white" stroke="#000" stroke-width="1.5"/>
<rect x="1708.25" y="456.8" width="11" height="11" fill="white" stroke="#000" stroke-width="1.5"/>
<rect x="1743.4" y="456.8" width="11" height="11" fill="white" stroke="#000" stroke-width="1.5"/>
<polyline points="1291.95,462.3 1327.1,441.612 1362.25,382.063 1397.4,280.299 1432.55,434.622 1467.7,435.461 1502.85,430.429 1538,456.988 1573.15,460.902 1608.3,462.3 1643.45,462.3 1678.6,462.3 1713.75,462.3 1748.9,462.3" fill="none" stroke="#000" stroke-width="1.7"/>
<path d="M1397.4 267.998L1397.4 292.6M1391.8 267.998L1403 267.998M1391.8 292.6L1403 292.6" stroke="#000" stroke-width="1.5" fill="none"/>
<path d="M1291.95 455.4L1298.85 462.3L1291.95 469.2L1285.05 462.3Z" fill="white" stroke="#000" stroke-width="1.5"/>
<path d="M1327.1 434.712L1334 441.612L1327.1 448.512L1320.2 441.612Z" fill="white" stroke="#000" stroke-width="1.5"/>
<path d="M1362.25 375.163L1369.15 382.063L1362.25 388.963L1355.35 382.063Z" fill="white" stroke="#000" stroke-width="1.5"/>
<path d="M1397.4 273.399L1404.3 280.299L1397.4 287.199L1390.5 280.299Z" fill="white" stroke="#000" stroke-width="1.5"/>
<path d="M1432.55 427.722L1439.45 434.622L1432.55 441.522L1425.65 434.622Z" fill="white" stroke="#000" stroke-width="1.5"/>
<path d="M1467.7 428.561L1474.6 435.461L1467.7 442.361L1460.8 435.461Z" fill="white" stroke="#000" stroke-width="1.5"/>
<path d="M1502.85 423.529L1509.75 430.429L1502.85 437.329L1495.95 430.429Z" fill="white" stroke="#000" stroke-width="1.5"/>
<path d="M1538 450.088L1544.9 456.988L1538 463.888L1531.1 456.988Z" fill="white" stroke="#000" stroke-width="1.5"/>
<path d="M1573.15 454.002L1580.05 460.902L1573.15 467.802L1566.25 460.902Z" fill="white" stroke="#000" stroke-width="1.5"/>
<path d="M1608.3 455.4L1615.2 462.3L1608.3 469.2L1601.4 462.3Z" fill="white" stroke="#000" stroke-width="1.5"/>
<path d="M1643.45 455.4L1650.35 462.3L1643.45 469.2L1636.55 462.3Z" fill="white" stroke="#000" stroke-width="1.5"/>
<path d="M1678.6 455.4L1685.5 462.3L1678.6 469.2L1671.7 462.3Z" fill="white" stroke="#000" stroke-width="1.5"/>
<path d="M1713.75 455.4L1720.65 462.3L1713.75 469.2L1706.85 462.3Z" fill="white" stroke="#000" stroke-width="1.5"/>
<path d="M1748.9 455.4L1755.8 462.3L1748.9 469.2L1742 462.3Z" fill="white" stroke="#000" stroke-width="1.5"/>
<path d="M1291 461h2v2h-2zM1296 461h2v2h-2zM1302 461h2v2h-2zM1307 461h2v2h-2zM1313 461h2v2h-2zM1318 461h2v2h-2zM1324 461h2v2h-2zM1329 461h2v2h-2zM1335 461h2v2h-2zM1340 461h2v2h-2zM1345 461h2v2h-2zM1351 461h2v2h-2zM1356 461h2v2h-2zM1362 461h2v2h-2zM1367 461h2v2h-2zM1373 460h2v2h-2zM1378 460h2v2h-2zM1384 460h2v2h-2zM1389 459h2v2h-2zM1394 459h2v2h-2zM1400 459h2v2h-2zM1405 459h2v2h-2zM1411 459h2v2h-2zM1416 459h2v2h-2zM1422 459h2v2h-2zM1427 459h2v2h-2zM1433 458h2v2h-2zM1438 458h2v2h-2zM1444 458h2v2h-2zM1449 458h2v2h-2zM1454 458h2v2h-2zM1460 457h2v2h-2zM1465 457h2v2h-2zM1471 457h2v2h-2zM1476 457h2v2h-2zM1482 457h2v2h-2zM1487 457h2v2h-2zM1493 457h2v2h-2zM1498 457h2v2h-2zM1504 457h2v2h-2zM1509 457h2v2h-2zM1514 458h2v2h-2zM1520 458h2v2h-2zM1525 458h2v2h-2zM1531 458h2v2h-2zM1536 458h2v2h-2zM1542 459h2v2h-2zM1547 459h2v2h-2zM1553 459h2v2h-2zM1558 459h2v2h-2zM1563 459h2v2h-2zM1569 459h2v2h-2zM1574 459h2v2h-2zM1580 459h2v2h-2zM1585 459h2v2h-2zM1591 459h2v2h-2zM1596 459h2v2h-2zM1602 459h2v2h-2zM1607 459h2v2h-2zM1612 459h2v2h-2zM1618 459h2v2h-2zM1623 459h2v2h-2zM1629 459h2v2h-2zM1634 459h2v2h-2zM1640 459h2v2h-2zM1645 459h2v2h-2zM1651 459h2v2h-2zM1656 459h2v2h-2zM1662 459h2v2h-2zM1667 459h2v2h-2zM1672 459h2v2h-2zM1678 459h2v2h-2zM1683 459h2v2h-2zM1689 459h2v2h-2zM1694 459h2v2h-2zM1700 459h2v2h-2zM1705 459h2v2h-2zM1711 459h2v2h-2zM1716 459h2v2h-2zM1722 459h2v2h-2zM1727 459h2v2h-2zM1732 459h2v2h-2zM1738 459h2v2h-2zM1743 459h2v2h-2z" fill="#3a3a3a"/>
<circle cx="1291.95" cy="462.3" r="5.9" fill="#c0c0c0" stroke="#000" stroke-width="1.5"/>
<circle cx="1327.1" cy="462.3" r="5.9" fill="#c0c0c0" stroke="#000" stroke-width="1.5"/>
<circle cx="1362.25" cy="462.3" r="5.9" fill="#c0c0c0" stroke="#000" stroke-width="1.5"/>
<circle cx="1397.4" cy="459.504" r="5.9" fill="#c0c0c0" stroke="#000" stroke-width="1.5"/>
<circle cx="1432.55" cy="459.504" r="5.9" fill="#c0c0c0" stroke="#000" stroke-width="1.5"/>
<circle cx="1467.7" cy="458.106" r="5.9" fill="#c0c0c0" stroke="#000" stroke-width="1.5"/>
<circle cx="1502.85" cy="458.106" r="5.9" fill="#c0c0c0" stroke="#000" stroke-width="1.5"/>
<circle cx="1538" cy="459.504" r="5.9" fill="#c0c0c0" stroke="#000" stroke-width="1.5"/>
<circle cx="1573.15" cy="459.504" r="5.9" fill="#c0c0c0" stroke="#000" stroke-width="1.5"/>
<circle cx="1608.3" cy="459.504" r="5.9" fill="#c0c0c0" stroke="#000" stroke-width="1.5"/>
<circle cx="1643.45" cy="459.504" r="5.9" fill="#c0c0c0" stroke="#000" stroke-width="1.5"/>
<circle cx="1678.6" cy="459.504" r="5.9" fill="#c0c0c0" stroke="#000" stroke-width="1.5"/>
<circle cx="1713.75" cy="459.504" r="5.9" fill="#c0c0c0" stroke="#000" stroke-width="1.5"/>
<circle cx="1748.9" cy="459.504" r="5.9" fill="#c0c0c0" stroke="#000" stroke-width="1.5"/>
<path d="M1291 461h2v2h-2zM1296 461h2v2h-2zM1302 461h2v2h-2zM1307 461h2v2h-2zM1313 461h2v2h-2zM1318 461h2v2h-2zM1324 461h2v2h-2zM1329 461h2v2h-2zM1335 461h2v2h-2zM1340 461h2v2h-2zM1345 461h2v2h-2zM1351 461h2v2h-2zM1356 461h2v2h-2zM1362 461h2v2h-2zM1367 461h2v2h-2zM1373 461h2v2h-2zM1378 461h2v2h-2zM1384 461h2v2h-2zM1389 461h2v2h-2zM1394 461h2v2h-2zM1400 461h2v2h-2zM1405 461h2v2h-2zM1411 461h2v2h-2zM1416 461h2v2h-2zM1422 461h2v2h-2zM1427 461h2v2h-2zM1433 461h2v2h-2zM1438 461h2v2h-2zM1444 461h2v2h-2zM1449 461h2v2h-2zM1454 461h2v2h-2zM1460 461h2v2h-2zM1465 461h2v2h-2zM1471 461h2v2h-2zM1476 461h2v2h-2zM1482 461h2v2h-2zM1487 461h2v2h-2zM1493 461h2v2h-2zM1498 461h2v2h-2zM1504 461h2v2h-2zM1509 461h2v2h-2zM1514 461h2v2h-2zM1520 461h2v2h-2zM1525 461h2v2h-2zM1531 461h2v2h-2zM1536 461h2v2h-2zM1542 461h2v2h-2zM1547 461h2v2h-2zM1553 461h2v2h-2zM1558 461h2v2h-2zM1563 461h2v2h-2zM1569 461h2v2h-2zM1574 461h2v2h-2zM1580 461h2v2h-2zM1585 461h2v2h-2zM1591 461h2v2h-2zM1596 461h2v2h-2zM1602 461h2v2h-2zM1607 461h2v2h-2zM1612 461h2v2h-2zM1618 461h2v2h-2zM1623 461h2v2h-2zM1629 461h2v2h-2zM1634 461h2v2h-2zM1640 461h2v2h-2zM1645 461h2v2h-2zM1651 461h2v2h-2zM1656 461h2v2h-2zM1662 461h2v2h-2zM1667 461h2v2h-2zM1672 461h2v2h-2zM1678 461h2v2h-2zM1683 461h2v2h-2zM1689 461h2v2h-2zM1694 461h2v2h-2zM1700 461h2v2h-2zM1705 461h2v2h-2zM1711 461h2v2h-2zM1716 461h2v2h-2zM1722 461h2v2h-2zM1727 461h2v2h-2zM1732 461h2v2h-2zM1738 461h2v2h-2zM1743 461h2v2h-2z" fill="#3a3a3a"/>
<path d="M1291.95 468.766L1297.55 459.067L1286.35 459.067Z" fill="#c0c0c0" stroke="#000" stroke-width="1.5"/>
<path d="M1327.1 468.766L1332.7 459.067L1321.5 459.067Z" fill="#c0c0c0" stroke="#000" stroke-width="1.5"/>
<path d="M1362.25 468.766L1367.85 459.067L1356.65 459.067Z" fill="#c0c0c0" stroke="#000" stroke-width="1.5"/>
<path d="M1397.4 468.766L1403 459.067L1391.8 459.067Z" fill="#c0c0c0" stroke="#000" stroke-width="1.5"/>
<path d="M1432.55 468.766L1438.15 459.067L1426.95 459.067Z" fill="#c0c0c0" stroke="#000" stroke-width="1.5"/>
<path d="M1467.7 468.766L1473.3 459.067L1462.1 459.067Z" fill="#c0c0c0" stroke="#000" stroke-width="1.5"/>
<path d="M1502.85 468.766L1508.45 459.067L1497.25 459.067Z" fill="#c0c0c0" stroke="#000" stroke-width="1.5"/>
<path d="M1538 468.766L1543.6 459.067L1532.4 459.067Z" fill="#c0c0c0" stroke="#000" stroke-width="1.5"/>
<path d="M1573.15 468.766L1578.75 459.067L1567.55 459.067Z" fill="#c0c0c0" stroke="#000" stroke-width="1.5"/>
<path d="M1608.3 468.766L1613.9 459.067L1602.7 459.067Z" fill="#c0c0c0" stroke="#000" stroke-width="1.5"/>
<path d="M1643.45 468.766L1649.05 459.067L1637.85 459.067Z" fill="#c0c0c0" stroke="#000" stroke-width="1.5"/>
<path d="M1678.6 468.766L1684.2 459.067L1673 459.067Z" fill="#c0c0c0" stroke="#000" stroke-width="1.5"/>
<path d="M1713.75 468.766L1719.35 459.067L1708.15 459.067Z" fill="#c0c0c0" stroke="#000" stroke-width="1.5"/>
<path d="M1748.9 468.766L1754.5 459.067L1743.3 459.067Z" fill="#c0c0c0" stroke="#000" stroke-width="1.5"/>
<path d="M1291 461h2v2h-2zM1296 461h2v2h-2zM1302 461h2v2h-2zM1307 461h2v2h-2zM1313 460h2v2h-2zM1318 460h2v2h-2zM1324 460h2v2h-2zM1329 459h2v2h-2zM1335 459h2v2h-2zM1340 458h2v2h-2zM1345 457h2v2h-2zM1351 457h2v2h-2zM1356 456h2v2h-2zM1362 455h2v2h-2zM1367 454h2v2h-2zM1373 453h2v2h-2zM1378 451h2v2h-2zM1384 450h2v2h-2zM1389 449h2v2h-2zM1394 447h2v2h-2zM1397 443h2v2h-2zM1398 438h2v2h-2zM1400 433h2v2h-2zM1401 427h2v2h-2zM1402 422h2v2h-2zM1403 416h2v2h-2zM1405 411h2v2h-2zM1406 405h2v2h-2zM1407 400h2v2h-2zM1408 394h2v2h-2zM1409 389h2v2h-2zM1411 384h2v2h-2zM1412 378h2v2h-2zM1413 373h2v2h-2zM1414 367h2v2h-2zM1416 362h2v2h-2zM1417 356h2v2h-2zM1418 351h2v2h-2zM1419 345h2v2h-2zM1420 340h2v2h-2zM1422 334h2v2h-2zM1423 329h2v2h-2zM1424 324h2v2h-2zM1425 318h2v2h-2zM1427 313h2v2h-2zM1428 307h2v2h-2zM1429 302h2v2h-2zM1430 296h2v2h-2zM1432 291h2v2h-2zM1437 290h2v2h-2zM1442 290h2v2h-2zM1448 289h2v2h-2zM1453 289h2v2h-2zM1459 288h2v2h-2zM1464 288h2v2h-2zM1470 285h2v2h-2zM1475 281h2v2h-2zM1480 276h2v2h-2zM1486 272h2v2h-2zM1491 267h2v2h-2zM1497 262h2v2h-2zM1502 258h2v2h-2zM1508 261h2v2h-2zM1513 263h2v2h-2zM1519 265h2v2h-2zM1524 267h2v2h-2zM1530 269h2v2h-2zM1535 272h2v2h-2zM1540 274h2v2h-2zM1546 276h2v2h-2zM1551 279h2v2h-2zM1557 281h2v2h-2zM1562 284h2v2h-2zM1568 286h2v2h-2zM1573 289h2v2h-2zM1577 295h2v2h-2zM1582 300h2v2h-2zM1586 306h2v2h-2zM1590 311h2v2h-2zM1594 317h2v2h-2zM1599 322h2v2h-2zM1603 328h2v2h-2zM1607 333h2v2h-2zM1613 336h2v2h-2zM1618 339h2v2h-2zM1624 342h2v2h-2zM1629 344h2v2h-2zM1635 347h2v2h-2zM1640 350h2v2h-2zM1646 353h2v2h-2zM1651 356h2v2h-2zM1656 359h2v2h-2zM1662 361h2v2h-2zM1667 364h2v2h-2zM1673 367h2v2h-2zM1678 370h2v2h-2zM1684 371h2v2h-2zM1689 373h2v2h-2zM1695 374h2v2h-2zM1700 375h2v2h-2zM1706 377h2v2h-2zM1711 378h2v2h-2zM1716 379h2v2h-2zM1722 379h2v2h-2zM1727 379h2v2h-2zM1733 379h2v2h-2zM1738 379h2v2h-2zM1744 379h2v2h-2z" fill="#3a3a3a"/>
<path d="M1467.7 279.181L1467.7 297.632M1462.1 279.181L1473.3 279.181M1462.1 297.632L1473.3 297.632" stroke="#000" stroke-width="1.5" fill="none"/>
<path d="M1502.85 248.148L1502.85 270.514M1497.25 248.148L1508.45 248.148M1497.25 270.514L1508.45 270.514" stroke="#000" stroke-width="1.5" fill="none"/>
<path d="M1538 265.761L1538 280.858M1532.4 265.761L1543.6 265.761M1532.4 280.858L1543.6 280.858" stroke="#000" stroke-width="1.5" fill="none"/>
<path d="M1573.15 285.331L1573.15 293.718M1567.55 285.331L1578.75 285.331M1567.55 293.718L1578.75 293.718" stroke="#000" stroke-width="1.5" fill="none"/>
<rect x="1286.45" y="456.8" width="11" height="11" fill="#c0c0c0" stroke="#000" stroke-width="1.5"/>
<rect x="1321.6" y="455.402" width="11" height="11" fill="#c0c0c0" stroke="#000" stroke-width="1.5"/>
<rect x="1356.75" y="450.649" width="11" height="11" fill="#c0c0c0" stroke="#000" stroke-width="1.5"/>
<rect x="1391.9" y="442.542" width="11" height="11" fill="#c0c0c0" stroke="#000" stroke-width="1.5"/>
<rect x="1427.05" y="286.261" width="11" height="11" fill="#c0c0c0" stroke="#000" stroke-width="1.5"/>
<rect x="1462.2" y="282.907" width="11" height="11" fill="#c0c0c0" stroke="#000" stroke-width="1.5"/>
<rect x="1497.35" y="253.831" width="11" height="11" fill="#c0c0c0" stroke="#000" stroke-width="1.5"/>
<rect x="1532.5" y="267.81" width="11" height="11" fill="#c0c0c0" stroke="#000" stroke-width="1.5"/>
<rect x="1567.65" y="284.025" width="11" height="11" fill="#c0c0c0" stroke="#000" stroke-width="1.5"/>
<rect x="1602.8" y="328.477" width="11" height="11" fill="#c0c0c0" stroke="#000" stroke-width="1.5"/>
<rect x="1637.95" y="346.928" width="11" height="11" fill="#c0c0c0" stroke="#000" stroke-width="1.5"/>
<rect x="1673.1" y="365.101" width="11" height="11" fill="#c0c0c0" stroke="#000" stroke-width="1.5"/>
<rect x="1708.25" y="374.326" width="11" height="11" fill="#c0c0c0" stroke="#000" stroke-width="1.5"/>
<rect x="1743.4" y="374.326" width="11" height="11" fill="#c0c0c0" stroke="#000" stroke-width="1.5"/>
<path d="M1291 461h2v2h-2zM1296 461h2v2h-2zM1302 461h2v2h-2zM1307 461h2v2h-2zM1313 461h2v2h-2zM1318 461h2v2h-2zM1324 461h2v2h-2zM1329 461h2v2h-2zM1335 461h2v2h-2zM1340 461h2v2h-2zM1345 461h2v2h-2zM1351 461h2v2h-2zM1356 461h2v2h-2zM1362 461h2v2h-2zM1367 461h2v2h-2zM1373 460h2v2h-2zM1378 460h2v2h-2zM1384 460h2v2h-2zM1389 459h2v2h-2zM1394 459h2v2h-2zM1400 457h2v2h-2zM1405 456h2v2h-2zM1411 454h2v2h-2zM1416 452h2v2h-2zM1422 450h2v2h-2zM1427 448h2v2h-2zM1433 447h2v2h-2zM1438 445h2v2h-2zM1444 444h2v2h-2zM1449 442h2v2h-2zM1454 440h2v2h-2zM1460 439h2v2h-2zM1465 437h2v2h-2zM1471 436h2v2h-2zM1476 435h2v2h-2zM1482 434h2v2h-2zM1487 433h2v2h-2zM1493 431h2v2h-2zM1498 430h2v2h-2zM1504 430h2v2h-2zM1509 430h2v2h-2zM1514 431h2v2h-2zM1520 431h2v2h-2zM1525 432h2v2h-2zM1531 432h2v2h-2zM1536 433h2v2h-2zM1542 432h2v2h-2zM1547 432h2v2h-2zM1553 431h2v2h-2zM1558 431h2v2h-2zM1563 430h2v2h-2zM1569 430h2v2h-2zM1574 430h2v2h-2zM1580 429h2v2h-2zM1585 429h2v2h-2zM1591 429h2v2h-2zM1596 428h2v2h-2zM1602 428h2v2h-2zM1607 427h2v2h-2zM1612 428h2v2h-2zM1618 429h2v2h-2zM1623 429h2v2h-2zM1629 430h2v2h-2zM1634 431h2v2h-2zM1640 431h2v2h-2zM1645 432h2v2h-2zM1651 432h2v2h-2zM1656 433h2v2h-2zM1662 433h2v2h-2zM1667 434h2v2h-2zM1672 435h2v2h-2zM1678 435h2v2h-2zM1683 436h2v2h-2zM1689 437h2v2h-2zM1694 438h2v2h-2zM1700 439h2v2h-2zM1705 440h2v2h-2zM1711 441h2v2h-2zM1716 441h2v2h-2zM1722 441h2v2h-2zM1727 441h2v2h-2zM1732 441h2v2h-2zM1738 441h2v2h-2zM1743 441h2v2h-2z" fill="#3a3a3a"/>
<path d="M1291.95 455.4L1298.85 462.3L1291.95 469.2L1285.05 462.3Z" fill="#c0c0c0" stroke="#000" stroke-width="1.5"/>
<path d="M1327.1 455.4L1334 462.3L1327.1 469.2L1320.2 462.3Z" fill="#c0c0c0" stroke="#000" stroke-width="1.5"/>
<path d="M1362.25 455.4L1369.15 462.3L1362.25 469.2L1355.35 462.3Z" fill="#c0c0c0" stroke="#000" stroke-width="1.5"/>
<path d="M1397.4 452.604L1404.3 459.504L1397.4 466.404L1390.5 459.504Z" fill="#c0c0c0" stroke="#000" stroke-width="1.5"/>
<path d="M1432.55 441.142L1439.45 448.042L1432.55 454.942L1425.65 448.042Z" fill="#c0c0c0" stroke="#000" stroke-width="1.5"/>
<path d="M1467.7 431.077L1474.6 437.977L1467.7 444.877L1460.8 437.977Z" fill="#c0c0c0" stroke="#000" stroke-width="1.5"/>
<path d="M1502.85 423.529L1509.75 430.429L1502.85 437.329L1495.95 430.429Z" fill="#c0c0c0" stroke="#000" stroke-width="1.5"/>
<path d="M1538 426.884L1544.9 433.784L1538 440.684L1531.1 433.784Z" fill="#c0c0c0" stroke="#000" stroke-width="1.5"/>
<path d="M1573.15 423.808L1580.05 430.708L1573.15 437.608L1566.25 430.708Z" fill="#c0c0c0" stroke="#000" stroke-width="1.5"/>
<path d="M1608.3 421.572L1615.2 428.472L1608.3 435.372L1601.4 428.472Z" fill="#c0c0c0" stroke="#000" stroke-width="1.5"/>
<path d="M1643.45 425.765L1650.35 432.665L1643.45 439.565L1636.55 432.665Z" fill="#c0c0c0" stroke="#000" stroke-width="1.5"/>
<path d="M1678.6 429.12L1685.5 436.02L1678.6 442.92L1671.7 436.02Z" fill="#c0c0c0" stroke="#000" stroke-width="1.5"/>
<path d="M1713.75 434.991L1720.65 441.891L1713.75 448.791L1706.85 441.891Z" fill="#c0c0c0" stroke="#000" stroke-width="1.5"/>
<path d="M1748.9 435.271L1755.8 442.171L1748.9 449.071L1742 442.171Z" fill="#c0c0c0" stroke="#000" stroke-width="1.5"/>
<path d="M1291 461h2v2h-2zM1296 461h2v2h-2zM1302 461h2v2h-2zM1307 461h2v2h-2zM1313 461h2v2h-2zM1318 461h2v2h-2zM1324 461h2v2h-2zM1329 461h2v2h-2zM1335 461h2v2h-2zM1340 461h2v2h-2zM1345 461h2v2h-2zM1351 461h2v2h-2zM1356 461h2v2h-2zM1362 461h2v2h-2zM1367 461h2v2h-2zM1373 461h2v2h-2zM1378 461h2v2h-2zM1384 460h2v2h-2zM1389 460h2v2h-2zM1394 460h2v2h-2zM1400 459h2v2h-2zM1405 459h2v2h-2zM1411 458h2v2h-2zM1416 457h2v2h-2zM1422 457h2v2h-2zM1427 456h2v2h-2zM1433 455h2v2h-2zM1438 455h2v2h-2zM1444 455h2v2h-2zM1449 455h2v2h-2zM1454 455h2v2h-2zM1460 455h2v2h-2zM1465 454h2v2h-2zM1471 454h2v2h-2zM1476 454h2v2h-2zM1482 454h2v2h-2zM1487 453h2v2h-2zM1493 453h2v2h-2zM1498 453h2v2h-2zM1504 453h2v2h-2zM1509 453h2v2h-2zM1514 453h2v2h-2zM1520 453h2v2h-2zM1525 453h2v2h-2zM1531 453h2v2h-2zM1536 453h2v2h-2zM1542 453h2v2h-2zM1547 453h2v2h-2zM1553 453h2v2h-2zM1558 453h2v2h-2zM1563 453h2v2h-2zM1569 453h2v2h-2zM1574 453h2v2h-2zM1580 452h2v2h-2zM1585 452h2v2h-2zM1591 451h2v2h-2zM1596 450h2v2h-2zM1602 450h2v2h-2zM1607 449h2v2h-2zM1612 449h2v2h-2zM1618 450h2v2h-2zM1623 450h2v2h-2zM1629 450h2v2h-2zM1634 450h2v2h-2zM1640 451h2v2h-2zM1645 451h2v2h-2zM1651 451h2v2h-2zM1656 451h2v2h-2zM1662 451h2v2h-2zM1667 451h2v2h-2zM1672 451h2v2h-2zM1678 452h2v2h-2zM1683 452h2v2h-2zM1689 453h2v2h-2zM1694 454h2v2h-2zM1700 455h2v2h-2zM1705 456h2v2h-2zM1711 457h2v2h-2zM1716 457h2v2h-2zM1722 457h2v2h-2zM1727 457h2v2h-2zM1732 457h2v2h-2zM1738 457h2v2h-2zM1743 457h2v2h-2z" fill="#3a3a3a"/>
<path d="M1291.95 455.834L1297.55 465.533L1286.35 465.533Z" fill="#c0c0c0" stroke="#000" stroke-width="1.5"/>
<path d="M1327.1 455.834L1332.7 465.533L1321.5 465.533Z" fill="#c0c0c0" stroke="#000" stroke-width="1.5"/>
<path d="M1362.25 455.834L1367.85 465.533L1356.65 465.533Z" fill="#c0c0c0" stroke="#000" stroke-width="1.5"/>
<path d="M1397.4 454.436L1403 464.135L1391.8 464.135Z" fill="#c0c0c0" stroke="#000" stroke-width="1.5"/>
<path d="M1432.55 449.963L1438.15 459.662L1426.95 459.662Z" fill="#c0c0c0" stroke="#000" stroke-width="1.5"/>
<path d="M1467.7 448.844L1473.3 458.544L1462.1 458.544Z" fill="#c0c0c0" stroke="#000" stroke-width="1.5"/>
<path d="M1502.85 447.447L1508.45 457.146L1497.25 457.146Z" fill="#c0c0c0" stroke="#000" stroke-width="1.5"/>
<path d="M1538 447.167L1543.6 456.866L1532.4 456.866Z" fill="#c0c0c0" stroke="#000" stroke-width="1.5"/>
<path d="M1573.15 447.447L1578.75 457.146L1567.55 457.146Z" fill="#c0c0c0" stroke="#000" stroke-width="1.5"/>
<path d="M1608.3 443.812L1613.9 453.512L1602.7 453.512Z" fill="#c0c0c0" stroke="#000" stroke-width="1.5"/>
<path d="M1643.45 445.21L1649.05 454.909L1637.85 454.909Z" fill="#c0c0c0" stroke="#000" stroke-width="1.5"/>
<path d="M1678.6 446.049L1684.2 455.748L1673 455.748Z" fill="#c0c0c0" stroke="#000" stroke-width="1.5"/>
<path d="M1713.75 451.361L1719.35 461.06L1708.15 461.06Z" fill="#c0c0c0" stroke="#000" stroke-width="1.5"/>
<path d="M1748.9 451.361L1754.5 461.06L1743.3 461.06Z" fill="#c0c0c0" stroke="#000" stroke-width="1.5"/>
<polyline points="1291.95,462.3 1327.1,462.3 1362.25,462.3 1397.4,462.3 1432.55,392.966 1467.7,334.815 1502.85,302.106 1538,247.31 1573.15,229.137 1608.3,185.804 1643.45,161.761 1678.6,141.632 1713.75,120.664 1748.9,120.664" fill="none" stroke="#000" stroke-width="1.7"/>
<path d="M1538 239.482L1538 255.138M1532.4 239.482L1543.6 239.482M1532.4 255.138L1543.6 255.138" stroke="#000" stroke-width="1.5" fill="none"/>
<path d="M1643.45 156.169L1643.45 167.352M1637.85 156.169L1649.05 156.169M1637.85 167.352L1649.05 167.352" stroke="#000" stroke-width="1.5" fill="none"/>
<path d="M1678.6 126.255L1678.6 157.008M1673 126.255L1684.2 126.255M1673 157.008L1684.2 157.008" stroke="#000" stroke-width="1.5" fill="none"/>
<path d="M1713.75 115.072L1713.75 126.255M1708.15 115.072L1719.35 115.072M1708.15 126.255L1719.35 126.255" stroke="#000" stroke-width="1.5" fill="none"/>
<path d="M1748.9 106.126L1748.9 135.201M1743.3 106.126L1754.5 106.126M1743.3 135.201L1754.5 135.201" stroke="#000" stroke-width="1.5" fill="none"/>
<circle cx="1291.95" cy="462.3" r="5.9" fill="black" stroke="#000" stroke-width="1.5"/>
<circle cx="1327.1" cy="462.3" r="5.9" fill="black" stroke="#000" stroke-width="1.5"/>
<circle cx="1362.25" cy="462.3" r="5.9" fill="black" stroke="#000" stroke-width="1.5"/>
<circle cx="1397.4" cy="462.3" r="5.9" fill="black" stroke="#000" stroke-width="1.5"/>
<circle cx="1432.55" cy="392.966" r="5.9" fill="black" stroke="#000" stroke-width="1.5"/>
<circle cx="1467.7" cy="334.815" r="5.9" fill="black" stroke="#000" stroke-width="1.5"/>
<circle cx="1502.85" cy="302.106" r="5.9" fill="black" stroke="#000" stroke-width="1.5"/>
<circle cx="1538" cy="247.31" r="5.9" fill="black" stroke="#000" stroke-width="1.5"/>
<circle cx="1573.15" cy="229.137" r="5.9" fill="black" stroke="#000" stroke-width="1.5"/>
<circle cx="1608.3" cy="185.804" r="5.9" fill="black" stroke="#000" stroke-width="1.5"/>
<circle cx="1643.45" cy="161.761" r="5.9" fill="black" stroke="#000" stroke-width="1.5"/>
<circle cx="1678.6" cy="141.632" r="5.9" fill="black" stroke="#000" stroke-width="1.5"/>
<circle cx="1713.75" cy="120.664" r="5.9" fill="black" stroke="#000" stroke-width="1.5"/>
<circle cx="1748.9" cy="120.664" r="5.9" fill="black" stroke="#000" stroke-width="1.5"/>
<path d="M1397.4 70.9L1397.4 462.3" stroke="#000" stroke-width="1.5"/>
</svg>
</body></html>
